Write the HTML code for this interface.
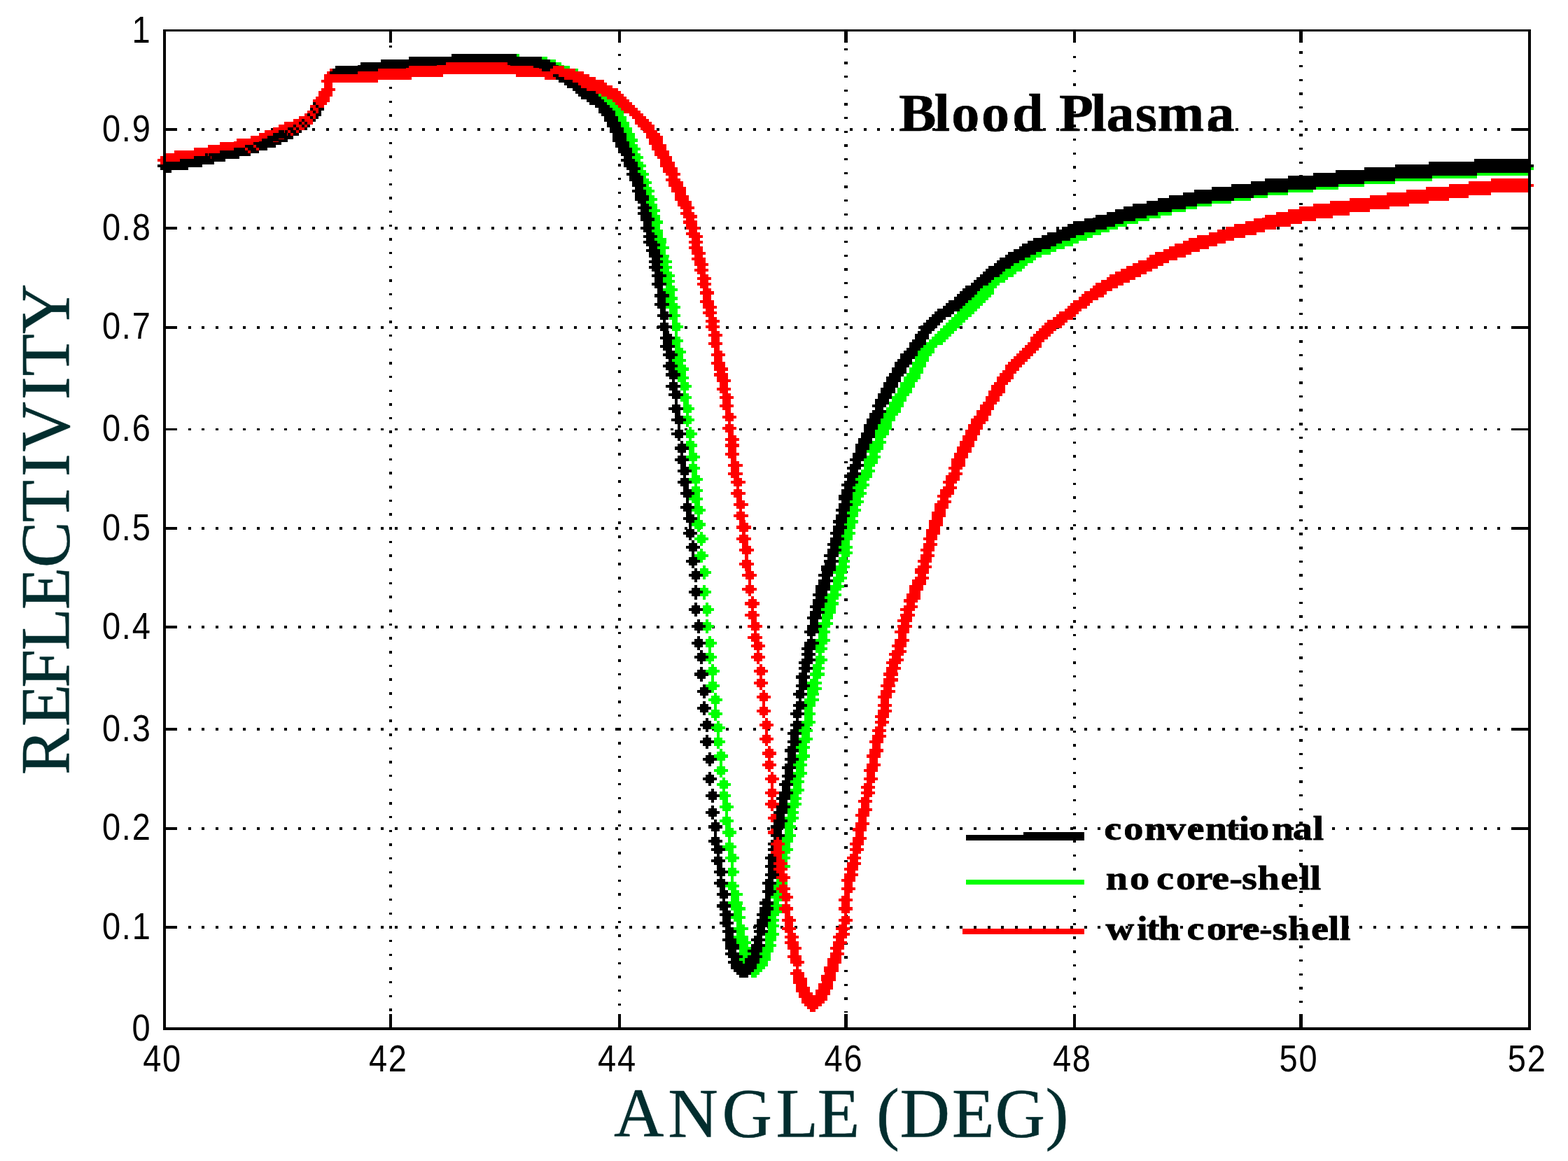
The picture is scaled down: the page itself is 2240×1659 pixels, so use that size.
<!DOCTYPE html>
<html lang="en"><head><meta charset="utf-8"><title>Blood Plasma reflectivity</title>
<style>html,body{margin:0;padding:0;background:#fff}body{width:2240px;height:1659px;overflow:hidden}svg{display:block}text{white-space:pre}.tk{font-family:"Liberation Sans",sans-serif;font-size:54px;fill:#000}.ax{font-family:"Liberation Serif",serif;fill:#022d2e;stroke:#022d2e;stroke-width:.5px;stroke-linejoin:round}.lg{font-family:"Liberation Serif",serif;font-weight:bold;fill:#000;stroke:#000;stroke-width:.8px}.tt{font-family:"Liberation Serif",serif;font-weight:bold;fill:#000;stroke:#000;stroke-width:.6px}</style></head><body>
<svg width="2240" height="1659" viewBox="0 0 2240 1659" shape-rendering="crispEdges">
<defs><path id="mk" d="M-2.02 -10.09h4.04v4.04h4.04v4.04h4.04v4.04h-4.04v4.04h-4.04v4.04h-4.04v-4.04h-4.04v-4.04h-4.04v-4.04h4.04v-4.04h4.04z" fill="#000"/><path id="mg" d="M-2.02 -10.09h4.04v4.04h4.04v4.04h4.04v4.04h-4.04v4.04h-4.04v4.04h-4.04v-4.04h-4.04v-4.04h-4.04v-4.04h4.04v-4.04h4.04z" fill="#0f0"/><path id="mr" d="M-2.02 -10.09h4.04v4.04h4.04v4.04h4.04v4.04h-4.04v4.04h-4.04v4.04h-4.04v-4.04h-4.04v-4.04h-4.04v-4.04h4.04v-4.04h4.04z" fill="#f00"/></defs>
<rect width="2240" height="1659" fill="#fff"/>
<g stroke="#000" fill="none"><line x1="557.8" y1="64.9" x2="557.8" y2="1447" stroke-width="4.6" stroke-dasharray="3.4 16.264"/><line x1="884.9" y1="76.9" x2="884.9" y2="1447" stroke-width="4.6" stroke-dasharray="3.4 16.264"/><line x1="1208.4" y1="68.6" x2="1208.4" y2="1447" stroke-width="4.6" stroke-dasharray="3.4 16.264"/><line x1="1534.8" y1="80.0" x2="1534.8" y2="1447" stroke-width="4.6" stroke-dasharray="3.4 16.264"/><line x1="1858.4" y1="73.2" x2="1858.4" y2="1447" stroke-width="4.6" stroke-dasharray="3.4 16.264"/><line x1="268.6" y1="185.2" x2="2145" y2="185.2" stroke-width="3.8" stroke-dasharray="4 15.692"/><line x1="268.6" y1="326.1" x2="2145" y2="326.1" stroke-width="3.8" stroke-dasharray="4 15.692"/><line x1="268.6" y1="467.8" x2="2145" y2="467.8" stroke-width="3.8" stroke-dasharray="4 15.692"/><line x1="268.6" y1="613.5" x2="2145" y2="613.5" stroke-width="3.8" stroke-dasharray="4 15.692"/><line x1="268.6" y1="755.2" x2="2145" y2="755.2" stroke-width="3.8" stroke-dasharray="4 15.692"/><line x1="268.6" y1="896.1" x2="2145" y2="896.1" stroke-width="3.8" stroke-dasharray="4 15.692"/><line x1="268.6" y1="1042.3" x2="2145" y2="1042.3" stroke-width="3.8" stroke-dasharray="4 15.692"/><line x1="268.6" y1="1183.8" x2="2145" y2="1183.8" stroke-width="3.8" stroke-dasharray="4 15.692"/><line x1="268.6" y1="1324.9" x2="2145" y2="1324.9" stroke-width="3.8" stroke-dasharray="4 15.692"/></g>
<g fill="#000"><rect x="555.5" y="1449.2" width="4.6" height="20"/><rect x="555.5" y="44" width="4.6" height="16.9"/><rect x="882.6" y="1449.2" width="4.6" height="20"/><rect x="882.6" y="44" width="4.6" height="16.9"/><rect x="1206.1" y="1449.2" width="4.6" height="20"/><rect x="1206.1" y="44" width="4.6" height="16.9"/><rect x="1532.5" y="1449.2" width="4.6" height="20"/><rect x="1532.5" y="44" width="4.6" height="16.9"/><rect x="1856.1" y="1449.2" width="4.6" height="20"/><rect x="1856.1" y="44" width="4.6" height="16.9"/><rect x="236" y="183.3" width="17.3" height="3.8"/><rect x="2159.4" y="183.3" width="24" height="3.8"/><rect x="236" y="324.2" width="17.3" height="3.8"/><rect x="2159.4" y="324.2" width="24" height="3.8"/><rect x="236" y="465.9" width="17.3" height="3.8"/><rect x="2159.4" y="465.9" width="24" height="3.8"/><rect x="236" y="611.6" width="17.3" height="3.8"/><rect x="2159.4" y="611.6" width="24" height="3.8"/><rect x="236" y="753.3" width="17.3" height="3.8"/><rect x="2159.4" y="753.3" width="24" height="3.8"/><rect x="236" y="894.2" width="17.3" height="3.8"/><rect x="2159.4" y="894.2" width="24" height="3.8"/><rect x="236" y="1040.4" width="17.3" height="3.8"/><rect x="2159.4" y="1040.4" width="24" height="3.8"/><rect x="236" y="1181.9" width="17.3" height="3.8"/><rect x="2159.4" y="1181.9" width="24" height="3.8"/><rect x="236" y="1323.0" width="17.3" height="3.8"/><rect x="2159.4" y="1323.0" width="24" height="3.8"/></g>
<text class="tt" transform="translate(0 187) scale(1.04 1)" x="1234.6 1283.3 1306.9 1348.2 1390.3 1433.2 1454.9 1498.6 1519.8 1559.4 1589.9 1657.1" font-size="77">Blood Plasma</text>
<g id="series-green">
<use href="#mg" x="234.9" y="236.8"/><use href="#mg" x="238.9" y="236.8"/><use href="#mg" x="243" y="236.8"/><use href="#mg" x="243" y="232.8"/><use href="#mg" x="247" y="232.8"/><use href="#mg" x="251" y="232.8"/><use href="#mg" x="255.1" y="232.8"/><use href="#mg" x="259.1" y="232.8"/><use href="#mg" x="263.2" y="232.8"/><use href="#mg" x="267.2" y="232.8"/><use href="#mg" x="267.2" y="228.7"/><use href="#mg" x="271.2" y="228.7"/><use href="#mg" x="275.3" y="228.7"/><use href="#mg" x="279.3" y="228.7"/><use href="#mg" x="283.3" y="228.7"/><use href="#mg" x="287.4" y="228.7"/><use href="#mg" x="287.4" y="224.7"/><use href="#mg" x="291.4" y="224.7"/><use href="#mg" x="295.5" y="224.7"/><use href="#mg" x="299.5" y="224.7"/><use href="#mg" x="303.5" y="224.7"/><use href="#mg" x="303.5" y="220.6"/><use href="#mg" x="307.6" y="220.6"/><use href="#mg" x="311.6" y="220.6"/><use href="#mg" x="315.6" y="220.6"/><use href="#mg" x="319.7" y="220.6"/><use href="#mg" x="323.7" y="216.6"/><use href="#mg" x="327.7" y="216.6"/><use href="#mg" x="331.8" y="216.6"/><use href="#mg" x="335.8" y="216.6"/><use href="#mg" x="339.9" y="216.6"/><use href="#mg" x="343.9" y="212.6"/><use href="#mg" x="347.9" y="212.6"/><use href="#mg" x="352" y="212.6"/><use href="#mg" x="356" y="212.6"/><use href="#mg" x="360" y="208.5"/><use href="#mg" x="364.1" y="208.5"/><use href="#mg" x="368.1" y="208.5"/><use href="#mg" x="372.2" y="204.5"/><use href="#mg" x="376.2" y="204.5"/><use href="#mg" x="380.2" y="204.5"/><use href="#mg" x="384.3" y="200.5"/><use href="#mg" x="388.3" y="200.5"/><use href="#mg" x="392.3" y="200.5"/><use href="#mg" x="392.3" y="196.4"/><use href="#mg" x="396.4" y="196.4"/><use href="#mg" x="400.4" y="196.4"/><use href="#mg" x="400.4" y="192.4"/><use href="#mg" x="404.4" y="192.4"/><use href="#mg" x="408.5" y="192.4"/><use href="#mg" x="408.5" y="188.4"/><use href="#mg" x="412.5" y="188.4"/><use href="#mg" x="416.6" y="188.4"/><use href="#mg" x="416.6" y="184.3"/><use href="#mg" x="420.6" y="184.3"/><use href="#mg" x="424.6" y="184.3"/><use href="#mg" x="424.6" y="180.3"/><use href="#mg" x="428.7" y="180.3"/><use href="#mg" x="432.7" y="176.2"/><use href="#mg" x="436.7" y="176.2"/><use href="#mg" x="436.7" y="172.2"/><use href="#mg" x="440.8" y="172.2"/><use href="#mg" x="444.8" y="168.2"/><use href="#mg" x="444.8" y="164.1"/><use href="#mg" x="448.9" y="164.1"/><use href="#mg" x="448.9" y="160.1"/><use href="#mg" x="452.9" y="156.1"/><use href="#mg" x="452.9" y="152"/><use href="#mg" x="456.9" y="148"/><use href="#mg" x="461" y="143.9"/><use href="#mg" x="461" y="139.9"/><use href="#mg" x="465" y="135.9"/><use href="#mg" x="465" y="131.8"/><use href="#mg" x="469" y="127.8"/><use href="#mg" x="469" y="115.7"/><use href="#mg" x="473.1" y="107.6"/><use href="#mg" x="477.1" y="107.6"/><use href="#mg" x="481.2" y="103.6"/><use href="#mg" x="485.2" y="103.6"/><use href="#mg" x="489.2" y="103.6"/><use href="#mg" x="493.3" y="103.6"/><use href="#mg" x="497.3" y="103.6"/><use href="#mg" x="501.3" y="103.6"/><use href="#mg" x="505.4" y="103.6"/><use href="#mg" x="509.4" y="103.6"/><use href="#mg" x="513.4" y="103.6"/><use href="#mg" x="517.5" y="103.6"/><use href="#mg" x="517.5" y="99.5"/><use href="#mg" x="521.5" y="99.5"/><use href="#mg" x="525.6" y="99.5"/><use href="#mg" x="529.6" y="99.5"/><use href="#mg" x="533.6" y="99.5"/><use href="#mg" x="537.7" y="99.5"/><use href="#mg" x="541.7" y="99.5"/><use href="#mg" x="545.7" y="99.5"/><use href="#mg" x="545.7" y="95.5"/><use href="#mg" x="549.8" y="95.5"/><use href="#mg" x="553.8" y="95.5"/><use href="#mg" x="557.9" y="95.5"/><use href="#mg" x="561.9" y="95.5"/><use href="#mg" x="565.9" y="95.5"/><use href="#mg" x="570" y="95.5"/><use href="#mg" x="574" y="95.5"/><use href="#mg" x="578" y="95.5"/><use href="#mg" x="582.1" y="95.5"/><use href="#mg" x="586.1" y="91.5"/><use href="#mg" x="590.2" y="91.5"/><use href="#mg" x="594.2" y="91.5"/><use href="#mg" x="598.2" y="91.5"/><use href="#mg" x="602.3" y="91.5"/><use href="#mg" x="606.3" y="91.5"/><use href="#mg" x="610.3" y="91.5"/><use href="#mg" x="614.4" y="91.5"/><use href="#mg" x="618.4" y="91.5"/><use href="#mg" x="622.4" y="91.5"/><use href="#mg" x="626.5" y="91.5"/><use href="#mg" x="630.5" y="91.5"/><use href="#mg" x="634.6" y="91.5"/><use href="#mg" x="638.6" y="91.5"/><use href="#mg" x="642.6" y="91.5"/><use href="#mg" x="646.7" y="87.4"/><use href="#mg" x="650.7" y="87.4"/><use href="#mg" x="654.7" y="87.4"/><use href="#mg" x="658.8" y="87.4"/><use href="#mg" x="662.8" y="87.4"/><use href="#mg" x="666.9" y="87.4"/><use href="#mg" x="670.9" y="87.4"/><use href="#mg" x="674.9" y="87.4"/><use href="#mg" x="679" y="87.4"/><use href="#mg" x="683" y="87.4"/><use href="#mg" x="687" y="87.4"/><use href="#mg" x="691.1" y="87.4"/><use href="#mg" x="695.1" y="87.4"/><use href="#mg" x="699.2" y="87.4"/><use href="#mg" x="703.2" y="87.4"/><use href="#mg" x="707.2" y="87.4"/><use href="#mg" x="711.3" y="87.4"/><use href="#mg" x="715.3" y="87.4"/><use href="#mg" x="719.3" y="87.4"/><use href="#mg" x="723.4" y="87.4"/><use href="#mg" x="727.4" y="87.4"/><use href="#mg" x="731.4" y="87.4"/><use href="#mg" x="735.5" y="87.4"/><use href="#mg" x="739.5" y="87.4"/><use href="#mg" x="743.6" y="91.5"/><use href="#mg" x="747.6" y="91.5"/><use href="#mg" x="751.6" y="91.5"/><use href="#mg" x="755.7" y="91.5"/><use href="#mg" x="759.7" y="91.5"/><use href="#mg" x="763.7" y="91.5"/><use href="#mg" x="767.8" y="91.5"/><use href="#mg" x="771.8" y="91.5"/><use href="#mg" x="775.9" y="91.5"/><use href="#mg" x="779.9" y="91.5"/><use href="#mg" x="779.9" y="95.5"/><use href="#mg" x="783.9" y="95.5"/><use href="#mg" x="788" y="95.5"/><use href="#mg" x="792" y="95.5"/><use href="#mg" x="792" y="99.5"/><use href="#mg" x="796" y="99.5"/><use href="#mg" x="800.1" y="99.5"/><use href="#mg" x="800.1" y="103.6"/><use href="#mg" x="804.1" y="103.6"/><use href="#mg" x="808.1" y="103.6"/><use href="#mg" x="812.2" y="103.6"/><use href="#mg" x="816.2" y="107.6"/><use href="#mg" x="820.3" y="107.6"/><use href="#mg" x="824.3" y="107.6"/><use href="#mg" x="824.3" y="111.6"/><use href="#mg" x="828.3" y="111.6"/><use href="#mg" x="832.4" y="115.7"/><use href="#mg" x="836.4" y="119.7"/><use href="#mg" x="840.4" y="119.7"/><use href="#mg" x="840.4" y="123.8"/><use href="#mg" x="844.5" y="123.8"/><use href="#mg" x="848.5" y="127.8"/><use href="#mg" x="852.6" y="131.8"/><use href="#mg" x="856.6" y="135.9"/><use href="#mg" x="860.6" y="139.9"/><use href="#mg" x="864.7" y="143.9"/><use href="#mg" x="868.7" y="148"/><use href="#mg" x="872.7" y="152"/><use href="#mg" x="876.8" y="156.1"/><use href="#mg" x="876.8" y="160.1"/><use href="#mg" x="880.8" y="160.1"/><use href="#mg" x="880.8" y="164.1"/><use href="#mg" x="884.9" y="168.2"/><use href="#mg" x="884.9" y="172.2"/><use href="#mg" x="888.9" y="176.2"/><use href="#mg" x="888.9" y="180.3"/><use href="#mg" x="892.9" y="184.3"/><use href="#mg" x="892.9" y="188.4"/><use href="#mg" x="897" y="192.4"/><use href="#mg" x="897" y="196.4"/><use href="#mg" x="901" y="200.5"/><use href="#mg" x="901" y="208.5"/><use href="#mg" x="905" y="212.6"/><use href="#mg" x="905" y="220.6"/><use href="#mg" x="909.1" y="224.7"/><use href="#mg" x="909.1" y="232.8"/><use href="#mg" x="913.1" y="236.8"/><use href="#mg" x="913.1" y="244.9"/><use href="#mg" x="917.1" y="248.9"/><use href="#mg" x="917.1" y="257"/><use href="#mg" x="921.2" y="261"/><use href="#mg" x="921.2" y="269.1"/><use href="#mg" x="925.2" y="273.1"/><use href="#mg" x="925.2" y="281.2"/><use href="#mg" x="929.3" y="285.2"/><use href="#mg" x="929.3" y="293.3"/><use href="#mg" x="933.3" y="301.4"/><use href="#mg" x="933.3" y="309.5"/><use href="#mg" x="937.3" y="317.5"/><use href="#mg" x="937.3" y="329.6"/><use href="#mg" x="937.3" y="333.7"/><use href="#mg" x="941.4" y="341.8"/><use href="#mg" x="941.4" y="345.8"/><use href="#mg" x="945.4" y="353.9"/><use href="#mg" x="945.4" y="366"/><use href="#mg" x="949.4" y="374.1"/><use href="#mg" x="949.4" y="382.1"/><use href="#mg" x="953.5" y="394.2"/><use href="#mg" x="953.5" y="402.3"/><use href="#mg" x="957.5" y="414.4"/><use href="#mg" x="957.5" y="426.5"/><use href="#mg" x="961.6" y="438.6"/><use href="#mg" x="961.6" y="450.8"/><use href="#mg" x="965.6" y="466.9"/><use href="#mg" x="965.6" y="487.1"/><use href="#mg" x="969.6" y="503.2"/><use href="#mg" x="969.6" y="515.3"/><use href="#mg" x="973.7" y="527.5"/><use href="#mg" x="973.7" y="539.6"/><use href="#mg" x="977.7" y="551.7"/><use href="#mg" x="977.7" y="567.8"/><use href="#mg" x="981.7" y="584"/><use href="#mg" x="981.7" y="600.1"/><use href="#mg" x="985.8" y="620.3"/><use href="#mg" x="985.8" y="636.5"/><use href="#mg" x="989.8" y="652.6"/><use href="#mg" x="989.8" y="668.8"/><use href="#mg" x="993.9" y="684.9"/><use href="#mg" x="993.9" y="701.1"/><use href="#mg" x="993.9" y="713.2"/><use href="#mg" x="997.9" y="729.3"/><use href="#mg" x="997.9" y="749.5"/><use href="#mg" x="1001.9" y="769.7"/><use href="#mg" x="1001.9" y="793.9"/><use href="#mg" x="1006" y="818.1"/><use href="#mg" x="1006" y="846.4"/><use href="#mg" x="1010" y="870.6"/><use href="#mg" x="1010" y="894.8"/><use href="#mg" x="1014" y="919"/><use href="#mg" x="1014" y="939.2"/><use href="#mg" x="1018.1" y="959.4"/><use href="#mg" x="1018.1" y="979.6"/><use href="#mg" x="1022.1" y="999.8"/><use href="#mg" x="1022.1" y="1020"/><use href="#mg" x="1026.1" y="1040.2"/><use href="#mg" x="1026.1" y="1060.3"/><use href="#mg" x="1030.2" y="1080.5"/><use href="#mg" x="1030.2" y="1100.7"/><use href="#mg" x="1034.2" y="1120.9"/><use href="#mg" x="1034.2" y="1137"/><use href="#mg" x="1038.3" y="1153.2"/><use href="#mg" x="1038.3" y="1173.4"/><use href="#mg" x="1042.3" y="1189.5"/><use href="#mg" x="1042.3" y="1209.7"/><use href="#mg" x="1046.3" y="1225.9"/><use href="#mg" x="1046.3" y="1246"/><use href="#mg" x="1046.3" y="1266.2"/><use href="#mg" x="1050.4" y="1278.3"/><use href="#mg" x="1050.4" y="1290.5"/><use href="#mg" x="1054.4" y="1298.5"/><use href="#mg" x="1054.4" y="1310.6"/><use href="#mg" x="1058.4" y="1326.8"/><use href="#mg" x="1058.4" y="1338.9"/><use href="#mg" x="1062.5" y="1347"/><use href="#mg" x="1062.5" y="1355"/><use href="#mg" x="1066.5" y="1363.1"/><use href="#mg" x="1066.5" y="1371.2"/><use href="#mg" x="1070.6" y="1375.2"/><use href="#mg" x="1070.6" y="1383.3"/><use href="#mg" x="1074.6" y="1383.3"/><use href="#mg" x="1074.6" y="1387.3"/><use href="#mg" x="1078.6" y="1387.3"/><use href="#mg" x="1082.7" y="1383.3"/><use href="#mg" x="1086.7" y="1379.3"/><use href="#mg" x="1086.7" y="1375.2"/><use href="#mg" x="1090.7" y="1371.2"/><use href="#mg" x="1090.7" y="1367.2"/><use href="#mg" x="1094.8" y="1359.1"/><use href="#mg" x="1094.8" y="1355"/><use href="#mg" x="1098.8" y="1351"/><use href="#mg" x="1098.8" y="1342.9"/><use href="#mg" x="1102.9" y="1334.9"/><use href="#mg" x="1102.9" y="1322.7"/><use href="#mg" x="1102.9" y="1314.7"/><use href="#mg" x="1106.9" y="1302.6"/><use href="#mg" x="1106.9" y="1294.5"/><use href="#mg" x="1110.9" y="1282.4"/><use href="#mg" x="1110.9" y="1270.3"/><use href="#mg" x="1115" y="1262.2"/><use href="#mg" x="1115" y="1250.1"/><use href="#mg" x="1119" y="1238"/><use href="#mg" x="1119" y="1225.9"/><use href="#mg" x="1123" y="1213.8"/><use href="#mg" x="1123" y="1201.6"/><use href="#mg" x="1127.1" y="1193.6"/><use href="#mg" x="1127.1" y="1181.5"/><use href="#mg" x="1131.1" y="1169.3"/><use href="#mg" x="1131.1" y="1161.3"/><use href="#mg" x="1135.1" y="1149.2"/><use href="#mg" x="1135.1" y="1141.1"/><use href="#mg" x="1139.2" y="1129"/><use href="#mg" x="1139.2" y="1116.9"/><use href="#mg" x="1143.2" y="1104.8"/><use href="#mg" x="1143.2" y="1092.6"/><use href="#mg" x="1147.3" y="1080.5"/><use href="#mg" x="1147.3" y="1068.4"/><use href="#mg" x="1151.3" y="1056.3"/><use href="#mg" x="1151.3" y="1044.2"/><use href="#mg" x="1155.3" y="1032.1"/><use href="#mg" x="1155.3" y="1020"/><use href="#mg" x="1155.3" y="1007.9"/><use href="#mg" x="1159.4" y="999.8"/><use href="#mg" x="1159.4" y="991.7"/><use href="#mg" x="1163.4" y="983.6"/><use href="#mg" x="1163.4" y="975.6"/><use href="#mg" x="1167.4" y="963.5"/><use href="#mg" x="1167.4" y="955.4"/><use href="#mg" x="1171.5" y="943.3"/><use href="#mg" x="1171.5" y="927.1"/><use href="#mg" x="1175.5" y="915"/><use href="#mg" x="1175.5" y="902.9"/><use href="#mg" x="1179.6" y="890.8"/><use href="#mg" x="1179.6" y="882.7"/><use href="#mg" x="1183.6" y="874.6"/><use href="#mg" x="1183.6" y="870.6"/><use href="#mg" x="1187.6" y="862.5"/><use href="#mg" x="1187.6" y="854.5"/><use href="#mg" x="1191.7" y="850.4"/><use href="#mg" x="1191.7" y="842.3"/><use href="#mg" x="1195.7" y="838.3"/><use href="#mg" x="1195.7" y="830.2"/><use href="#mg" x="1199.7" y="826.2"/><use href="#mg" x="1199.7" y="818.1"/><use href="#mg" x="1203.8" y="810"/><use href="#mg" x="1203.8" y="802"/><use href="#mg" x="1207.8" y="789.9"/><use href="#mg" x="1207.8" y="781.8"/><use href="#mg" x="1207.8" y="769.7"/><use href="#mg" x="1211.8" y="761.6"/><use href="#mg" x="1211.8" y="753.5"/><use href="#mg" x="1215.9" y="745.5"/><use href="#mg" x="1215.9" y="737.4"/><use href="#mg" x="1219.9" y="729.3"/><use href="#mg" x="1219.9" y="721.2"/><use href="#mg" x="1224" y="717.2"/><use href="#mg" x="1224" y="709.1"/><use href="#mg" x="1228" y="705.1"/><use href="#mg" x="1228" y="697"/><use href="#mg" x="1232" y="693"/><use href="#mg" x="1232" y="684.9"/><use href="#mg" x="1236.1" y="680.9"/><use href="#mg" x="1236.1" y="676.8"/><use href="#mg" x="1240.1" y="672.8"/><use href="#mg" x="1240.1" y="664.7"/><use href="#mg" x="1244.1" y="660.7"/><use href="#mg" x="1244.1" y="656.6"/><use href="#mg" x="1248.2" y="652.6"/><use href="#mg" x="1248.2" y="644.5"/><use href="#mg" x="1252.2" y="640.5"/><use href="#mg" x="1252.2" y="636.5"/><use href="#mg" x="1256.3" y="632.4"/><use href="#mg" x="1256.3" y="624.3"/><use href="#mg" x="1260.3" y="620.3"/><use href="#mg" x="1260.3" y="616.3"/><use href="#mg" x="1264.3" y="612.2"/><use href="#mg" x="1264.3" y="608.2"/><use href="#mg" x="1264.3" y="604.2"/><use href="#mg" x="1268.4" y="600.1"/><use href="#mg" x="1268.4" y="596.1"/><use href="#mg" x="1272.4" y="592.1"/><use href="#mg" x="1276.4" y="588"/><use href="#mg" x="1276.4" y="584"/><use href="#mg" x="1280.5" y="579.9"/><use href="#mg" x="1280.5" y="575.9"/><use href="#mg" x="1284.5" y="571.9"/><use href="#mg" x="1284.5" y="567.8"/><use href="#mg" x="1288.6" y="563.8"/><use href="#mg" x="1292.6" y="559.8"/><use href="#mg" x="1292.6" y="555.7"/><use href="#mg" x="1296.6" y="551.7"/><use href="#mg" x="1296.6" y="547.6"/><use href="#mg" x="1300.7" y="543.6"/><use href="#mg" x="1300.7" y="539.6"/><use href="#mg" x="1304.7" y="539.6"/><use href="#mg" x="1304.7" y="535.5"/><use href="#mg" x="1308.7" y="531.5"/><use href="#mg" x="1308.7" y="527.5"/><use href="#mg" x="1312.8" y="523.4"/><use href="#mg" x="1312.8" y="519.4"/><use href="#mg" x="1316.8" y="515.3"/><use href="#mg" x="1316.8" y="511.3"/><use href="#mg" x="1320.8" y="507.3"/><use href="#mg" x="1320.8" y="503.2"/><use href="#mg" x="1324.9" y="503.2"/><use href="#mg" x="1324.9" y="499.2"/><use href="#mg" x="1328.9" y="495.2"/><use href="#mg" x="1333" y="491.1"/><use href="#mg" x="1337" y="487.1"/><use href="#mg" x="1341" y="483.1"/><use href="#mg" x="1345.1" y="483.1"/><use href="#mg" x="1345.1" y="479"/><use href="#mg" x="1349.1" y="479"/><use href="#mg" x="1349.1" y="475"/><use href="#mg" x="1353.1" y="475"/><use href="#mg" x="1353.1" y="470.9"/><use href="#mg" x="1357.2" y="470.9"/><use href="#mg" x="1357.2" y="466.9"/><use href="#mg" x="1361.2" y="466.9"/><use href="#mg" x="1361.2" y="462.9"/><use href="#mg" x="1365.3" y="462.9"/><use href="#mg" x="1369.3" y="458.8"/><use href="#mg" x="1369.3" y="454.8"/><use href="#mg" x="1373.3" y="454.8"/><use href="#mg" x="1373.3" y="450.8"/><use href="#mg" x="1377.4" y="450.8"/><use href="#mg" x="1377.4" y="446.7"/><use href="#mg" x="1381.4" y="446.7"/><use href="#mg" x="1381.4" y="442.7"/><use href="#mg" x="1385.4" y="442.7"/><use href="#mg" x="1385.4" y="438.6"/><use href="#mg" x="1389.5" y="438.6"/><use href="#mg" x="1389.5" y="434.6"/><use href="#mg" x="1393.5" y="434.6"/><use href="#mg" x="1393.5" y="430.6"/><use href="#mg" x="1397.6" y="430.6"/><use href="#mg" x="1397.6" y="426.5"/><use href="#mg" x="1401.6" y="426.5"/><use href="#mg" x="1401.6" y="422.5"/><use href="#mg" x="1405.6" y="422.5"/><use href="#mg" x="1405.6" y="418.5"/><use href="#mg" x="1409.7" y="418.5"/><use href="#mg" x="1409.7" y="414.4"/><use href="#mg" x="1413.7" y="410.4"/><use href="#mg" x="1417.7" y="406.3"/><use href="#mg" x="1421.8" y="402.3"/><use href="#mg" x="1425.8" y="398.3"/><use href="#mg" x="1429.8" y="394.2"/><use href="#mg" x="1433.9" y="394.2"/><use href="#mg" x="1433.9" y="390.2"/><use href="#mg" x="1437.9" y="390.2"/><use href="#mg" x="1442" y="386.2"/><use href="#mg" x="1446" y="386.2"/><use href="#mg" x="1446" y="382.1"/><use href="#mg" x="1450" y="382.1"/><use href="#mg" x="1454.1" y="378.1"/><use href="#mg" x="1458.1" y="378.1"/><use href="#mg" x="1458.1" y="374.1"/><use href="#mg" x="1462.1" y="374.1"/><use href="#mg" x="1462.1" y="370"/><use href="#mg" x="1466.2" y="370"/><use href="#mg" x="1470.2" y="366"/><use href="#mg" x="1474.3" y="366"/><use href="#mg" x="1474.3" y="361.9"/><use href="#mg" x="1478.3" y="361.9"/><use href="#mg" x="1482.3" y="357.9"/><use href="#mg" x="1486.4" y="357.9"/><use href="#mg" x="1490.4" y="353.9"/><use href="#mg" x="1494.4" y="353.9"/><use href="#mg" x="1498.5" y="353.9"/><use href="#mg" x="1498.5" y="349.8"/><use href="#mg" x="1502.5" y="349.8"/><use href="#mg" x="1506.6" y="349.8"/><use href="#mg" x="1510.6" y="345.8"/><use href="#mg" x="1514.6" y="345.8"/><use href="#mg" x="1518.7" y="345.8"/><use href="#mg" x="1522.7" y="341.8"/><use href="#mg" x="1526.7" y="341.8"/><use href="#mg" x="1530.8" y="341.8"/><use href="#mg" x="1530.8" y="337.7"/><use href="#mg" x="1534.8" y="337.7"/><use href="#mg" x="1538.8" y="337.7"/><use href="#mg" x="1542.9" y="333.7"/><use href="#mg" x="1546.9" y="333.7"/><use href="#mg" x="1551" y="333.7"/><use href="#mg" x="1551" y="329.6"/><use href="#mg" x="1555" y="329.6"/><use href="#mg" x="1559" y="329.6"/><use href="#mg" x="1563.1" y="325.6"/><use href="#mg" x="1567.1" y="325.6"/><use href="#mg" x="1571.1" y="325.6"/><use href="#mg" x="1571.1" y="321.6"/><use href="#mg" x="1575.2" y="321.6"/><use href="#mg" x="1579.2" y="321.6"/><use href="#mg" x="1583.3" y="321.6"/><use href="#mg" x="1583.3" y="317.5"/><use href="#mg" x="1587.3" y="317.5"/><use href="#mg" x="1591.3" y="317.5"/><use href="#mg" x="1595.4" y="317.5"/><use href="#mg" x="1595.4" y="313.5"/><use href="#mg" x="1599.4" y="313.5"/><use href="#mg" x="1603.4" y="313.5"/><use href="#mg" x="1607.5" y="313.5"/><use href="#mg" x="1611.5" y="309.5"/><use href="#mg" x="1615.5" y="309.5"/><use href="#mg" x="1619.6" y="309.5"/><use href="#mg" x="1623.6" y="309.5"/><use href="#mg" x="1623.6" y="305.4"/><use href="#mg" x="1627.7" y="305.4"/><use href="#mg" x="1631.7" y="305.4"/><use href="#mg" x="1635.7" y="305.4"/><use href="#mg" x="1639.8" y="305.4"/><use href="#mg" x="1639.8" y="301.4"/><use href="#mg" x="1643.8" y="301.4"/><use href="#mg" x="1647.8" y="301.4"/><use href="#mg" x="1651.9" y="301.4"/><use href="#mg" x="1655.9" y="301.4"/><use href="#mg" x="1655.9" y="297.4"/><use href="#mg" x="1660" y="297.4"/><use href="#mg" x="1664" y="297.4"/><use href="#mg" x="1668" y="297.4"/><use href="#mg" x="1672.1" y="297.4"/><use href="#mg" x="1672.1" y="293.3"/><use href="#mg" x="1676.1" y="293.3"/><use href="#mg" x="1680.1" y="293.3"/><use href="#mg" x="1684.2" y="293.3"/><use href="#mg" x="1688.2" y="293.3"/><use href="#mg" x="1692.3" y="293.3"/><use href="#mg" x="1692.3" y="289.3"/><use href="#mg" x="1696.3" y="289.3"/><use href="#mg" x="1700.3" y="289.3"/><use href="#mg" x="1704.4" y="289.3"/><use href="#mg" x="1708.4" y="289.3"/><use href="#mg" x="1708.4" y="285.2"/><use href="#mg" x="1712.4" y="285.2"/><use href="#mg" x="1716.5" y="285.2"/><use href="#mg" x="1720.5" y="285.2"/><use href="#mg" x="1724.5" y="285.2"/><use href="#mg" x="1728.6" y="285.2"/><use href="#mg" x="1732.6" y="281.2"/><use href="#mg" x="1736.7" y="281.2"/><use href="#mg" x="1740.7" y="281.2"/><use href="#mg" x="1744.7" y="281.2"/><use href="#mg" x="1748.8" y="281.2"/><use href="#mg" x="1752.8" y="281.2"/><use href="#mg" x="1756.8" y="281.2"/><use href="#mg" x="1760.9" y="277.2"/><use href="#mg" x="1764.9" y="277.2"/><use href="#mg" x="1769" y="277.2"/><use href="#mg" x="1773" y="277.2"/><use href="#mg" x="1777" y="277.2"/><use href="#mg" x="1781.1" y="277.2"/><use href="#mg" x="1785.1" y="277.2"/><use href="#mg" x="1789.1" y="273.1"/><use href="#mg" x="1793.2" y="273.1"/><use href="#mg" x="1797.2" y="273.1"/><use href="#mg" x="1801.3" y="273.1"/><use href="#mg" x="1805.3" y="273.1"/><use href="#mg" x="1809.3" y="273.1"/><use href="#mg" x="1809.3" y="269.1"/><use href="#mg" x="1813.4" y="269.1"/><use href="#mg" x="1817.4" y="269.1"/><use href="#mg" x="1821.4" y="269.1"/><use href="#mg" x="1825.5" y="269.1"/><use href="#mg" x="1829.5" y="269.1"/><use href="#mg" x="1833.5" y="269.1"/><use href="#mg" x="1837.6" y="269.1"/><use href="#mg" x="1841.6" y="265.1"/><use href="#mg" x="1845.7" y="265.1"/><use href="#mg" x="1849.7" y="265.1"/><use href="#mg" x="1853.7" y="265.1"/><use href="#mg" x="1857.8" y="265.1"/><use href="#mg" x="1861.8" y="265.1"/><use href="#mg" x="1865.8" y="265.1"/><use href="#mg" x="1869.9" y="265.1"/><use href="#mg" x="1873.9" y="265.1"/><use href="#mg" x="1878" y="261"/><use href="#mg" x="1882" y="261"/><use href="#mg" x="1886" y="261"/><use href="#mg" x="1890.1" y="261"/><use href="#mg" x="1894.1" y="261"/><use href="#mg" x="1898.1" y="261"/><use href="#mg" x="1902.2" y="261"/><use href="#mg" x="1906.2" y="261"/><use href="#mg" x="1910.3" y="261"/><use href="#mg" x="1910.3" y="257"/><use href="#mg" x="1914.3" y="257"/><use href="#mg" x="1918.3" y="257"/><use href="#mg" x="1922.4" y="257"/><use href="#mg" x="1926.4" y="257"/><use href="#mg" x="1930.4" y="257"/><use href="#mg" x="1934.5" y="257"/><use href="#mg" x="1938.5" y="257"/><use href="#mg" x="1942.5" y="257"/><use href="#mg" x="1946.6" y="257"/><use href="#mg" x="1950.6" y="252.9"/><use href="#mg" x="1954.7" y="252.9"/><use href="#mg" x="1958.7" y="252.9"/><use href="#mg" x="1962.7" y="252.9"/><use href="#mg" x="1966.8" y="252.9"/><use href="#mg" x="1970.8" y="252.9"/><use href="#mg" x="1974.8" y="252.9"/><use href="#mg" x="1978.9" y="252.9"/><use href="#mg" x="1982.9" y="252.9"/><use href="#mg" x="1987" y="252.9"/><use href="#mg" x="1991" y="252.9"/><use href="#mg" x="1995" y="248.9"/><use href="#mg" x="1999.1" y="248.9"/><use href="#mg" x="2003.1" y="248.9"/><use href="#mg" x="2007.1" y="248.9"/><use href="#mg" x="2011.2" y="248.9"/><use href="#mg" x="2015.2" y="248.9"/><use href="#mg" x="2019.2" y="248.9"/><use href="#mg" x="2023.3" y="248.9"/><use href="#mg" x="2027.3" y="248.9"/><use href="#mg" x="2031.4" y="248.9"/><use href="#mg" x="2035.4" y="248.9"/><use href="#mg" x="2039.4" y="248.9"/><use href="#mg" x="2043.5" y="248.9"/><use href="#mg" x="2043.5" y="244.9"/><use href="#mg" x="2047.5" y="244.9"/><use href="#mg" x="2051.5" y="244.9"/><use href="#mg" x="2055.6" y="244.9"/><use href="#mg" x="2059.6" y="244.9"/><use href="#mg" x="2063.7" y="244.9"/><use href="#mg" x="2067.7" y="244.9"/><use href="#mg" x="2071.7" y="244.9"/><use href="#mg" x="2075.8" y="244.9"/><use href="#mg" x="2079.8" y="244.9"/><use href="#mg" x="2083.8" y="244.9"/><use href="#mg" x="2087.9" y="244.9"/><use href="#mg" x="2091.9" y="244.9"/><use href="#mg" x="2096" y="244.9"/><use href="#mg" x="2100" y="244.9"/><use href="#mg" x="2104" y="244.9"/><use href="#mg" x="2108.1" y="244.9"/><use href="#mg" x="2108.1" y="240.8"/><use href="#mg" x="2112.1" y="240.8"/><use href="#mg" x="2116.1" y="240.8"/><use href="#mg" x="2120.2" y="240.8"/><use href="#mg" x="2124.2" y="240.8"/><use href="#mg" x="2128.2" y="240.8"/><use href="#mg" x="2132.3" y="240.8"/><use href="#mg" x="2136.3" y="240.8"/><use href="#mg" x="2140.4" y="240.8"/><use href="#mg" x="2144.4" y="240.8"/><use href="#mg" x="2148.4" y="240.8"/><use href="#mg" x="2152.5" y="240.8"/><use href="#mg" x="2156.5" y="240.8"/><use href="#mg" x="2160.5" y="240.8"/><use href="#mg" x="2164.6" y="240.8"/><use href="#mg" x="2168.6" y="240.8"/><use href="#mg" x="2172.7" y="240.8"/><use href="#mg" x="2176.7" y="240.8"/><use href="#mg" x="2180.7" y="240.8"/>
</g><g id="series-black-red">
<use href="#mk" x="234.9" y="236.8"/><use href="#mr" x="234.9" y="228.7"/><use href="#mk" x="238.9" y="236.8"/><use href="#mr" x="238.9" y="228.7"/><use href="#mk" x="243" y="236.8"/><use href="#mk" x="243" y="232.8"/><use href="#mr" x="243" y="228.7"/><use href="#mk" x="247" y="232.8"/><use href="#mr" x="247" y="228.7"/><use href="#mr" x="251" y="228.7"/><use href="#mk" x="251" y="232.8"/><use href="#mr" x="251" y="224.7"/><use href="#mk" x="255.1" y="232.8"/><use href="#mr" x="255.1" y="224.7"/><use href="#mk" x="259.1" y="232.8"/><use href="#mr" x="259.1" y="224.7"/><use href="#mk" x="263.2" y="232.8"/><use href="#mr" x="263.2" y="224.7"/><use href="#mk" x="267.2" y="232.8"/><use href="#mk" x="267.2" y="228.7"/><use href="#mr" x="267.2" y="224.7"/><use href="#mk" x="271.2" y="228.7"/><use href="#mr" x="271.2" y="224.7"/><use href="#mk" x="275.3" y="228.7"/><use href="#mr" x="275.3" y="224.7"/><use href="#mr" x="279.3" y="224.7"/><use href="#mk" x="279.3" y="228.7"/><use href="#mr" x="279.3" y="220.6"/><use href="#mk" x="283.3" y="228.7"/><use href="#mr" x="283.3" y="220.6"/><use href="#mk" x="287.4" y="228.7"/><use href="#mk" x="287.4" y="224.7"/><use href="#mr" x="287.4" y="220.6"/><use href="#mk" x="291.4" y="224.7"/><use href="#mr" x="291.4" y="220.6"/><use href="#mk" x="295.5" y="224.7"/><use href="#mr" x="295.5" y="220.6"/><use href="#mr" x="299.5" y="220.6"/><use href="#mk" x="299.5" y="224.7"/><use href="#mr" x="299.5" y="216.6"/><use href="#mk" x="303.5" y="224.7"/><use href="#mk" x="303.5" y="220.6"/><use href="#mr" x="303.5" y="216.6"/><use href="#mk" x="307.6" y="220.6"/><use href="#mr" x="307.6" y="216.6"/><use href="#mk" x="311.6" y="220.6"/><use href="#mr" x="311.6" y="216.6"/><use href="#mr" x="315.6" y="216.6"/><use href="#mk" x="315.6" y="220.6"/><use href="#mr" x="315.6" y="212.6"/><use href="#mk" x="319.7" y="220.6"/><use href="#mr" x="319.7" y="212.6"/><use href="#mk" x="323.7" y="216.6"/><use href="#mr" x="323.7" y="212.6"/><use href="#mk" x="327.7" y="216.6"/><use href="#mr" x="327.7" y="212.6"/><use href="#mk" x="331.8" y="216.6"/><use href="#mr" x="331.8" y="212.6"/><use href="#mk" x="335.8" y="216.6"/><use href="#mr" x="335.8" y="212.6"/><use href="#mr" x="339.9" y="212.6"/><use href="#mk" x="339.9" y="216.6"/><use href="#mr" x="339.9" y="208.5"/><use href="#mk" x="343.9" y="212.6"/><use href="#mr" x="343.9" y="208.5"/><use href="#mk" x="347.9" y="212.6"/><use href="#mr" x="347.9" y="208.5"/><use href="#mk" x="352" y="212.6"/><use href="#mr" x="352" y="208.5"/><use href="#mk" x="356" y="212.6"/><use href="#mr" x="356" y="208.5"/><use href="#mk" x="360" y="208.5"/><use href="#mr" x="360" y="204.5"/><use href="#mk" x="364.1" y="208.5"/><use href="#mr" x="364.1" y="204.5"/><use href="#mk" x="368.1" y="208.5"/><use href="#mr" x="368.1" y="204.5"/><use href="#mk" x="372.2" y="204.5"/><use href="#mr" x="372.2" y="200.5"/><use href="#mk" x="376.2" y="204.5"/><use href="#mr" x="376.2" y="200.5"/><use href="#mr" x="380.2" y="200.5"/><use href="#mk" x="380.2" y="204.5"/><use href="#mr" x="380.2" y="196.4"/><use href="#mk" x="384.3" y="200.5"/><use href="#mr" x="384.3" y="196.4"/><use href="#mk" x="388.3" y="200.5"/><use href="#mr" x="388.3" y="196.4"/><use href="#mk" x="392.3" y="200.5"/><use href="#mk" x="392.3" y="196.4"/><use href="#mr" x="392.3" y="192.4"/><use href="#mk" x="396.4" y="196.4"/><use href="#mr" x="396.4" y="192.4"/><use href="#mk" x="400.4" y="196.4"/><use href="#mr" x="400.4" y="192.4"/><use href="#mk" x="400.4" y="192.4"/><use href="#mr" x="400.4" y="188.4"/><use href="#mk" x="404.4" y="192.4"/><use href="#mr" x="404.4" y="188.4"/><use href="#mk" x="408.5" y="192.4"/><use href="#mr" x="408.5" y="188.4"/><use href="#mk" x="408.5" y="188.4"/><use href="#mr" x="408.5" y="184.3"/><use href="#mk" x="412.5" y="188.4"/><use href="#mr" x="412.5" y="184.3"/><use href="#mk" x="416.6" y="188.4"/><use href="#mk" x="416.6" y="184.3"/><use href="#mr" x="416.6" y="184.3"/><use href="#mk" x="420.6" y="184.3"/><use href="#mr" x="420.6" y="180.3"/><use href="#mk" x="424.6" y="184.3"/><use href="#mk" x="424.6" y="180.3"/><use href="#mr" x="424.6" y="180.3"/><use href="#mk" x="428.7" y="180.3"/><use href="#mr" x="428.7" y="176.2"/><use href="#mk" x="432.7" y="176.2"/><use href="#mr" x="432.7" y="176.2"/><use href="#mk" x="436.7" y="176.2"/><use href="#mk" x="436.7" y="172.2"/><use href="#mr" x="436.7" y="172.2"/><use href="#mr" x="440.8" y="172.2"/><use href="#mk" x="440.8" y="172.2"/><use href="#mr" x="440.8" y="168.2"/><use href="#mk" x="444.8" y="168.2"/><use href="#mr" x="444.8" y="168.2"/><use href="#mk" x="444.8" y="164.1"/><use href="#mr" x="444.8" y="164.1"/><use href="#mk" x="448.9" y="164.1"/><use href="#mk" x="448.9" y="160.1"/><use href="#mr" x="448.9" y="160.1"/><use href="#mr" x="452.9" y="156.1"/><use href="#mk" x="452.9" y="156.1"/><use href="#mk" x="452.9" y="152"/><use href="#mr" x="452.9" y="152"/><use href="#mr" x="456.9" y="148"/><use href="#mk" x="456.9" y="148"/><use href="#mr" x="456.9" y="143.9"/><use href="#mk" x="461" y="143.9"/><use href="#mr" x="461" y="143.9"/><use href="#mk" x="461" y="139.9"/><use href="#mr" x="461" y="139.9"/><use href="#mk" x="465" y="135.9"/><use href="#mr" x="465" y="135.9"/><use href="#mk" x="465" y="131.8"/><use href="#mr" x="465" y="131.8"/><use href="#mk" x="469" y="127.8"/><use href="#mr" x="469" y="127.8"/><use href="#mk" x="469" y="115.7"/><use href="#mr" x="469" y="115.7"/><use href="#mr" x="473.1" y="111.6"/><use href="#mk" x="473.1" y="107.6"/><use href="#mr" x="473.1" y="107.6"/><use href="#mk" x="477.1" y="107.6"/><use href="#mr" x="477.1" y="107.6"/><use href="#mk" x="481.2" y="103.6"/><use href="#mr" x="481.2" y="107.6"/><use href="#mk" x="485.2" y="103.6"/><use href="#mr" x="485.2" y="107.6"/><use href="#mk" x="489.2" y="103.6"/><use href="#mr" x="489.2" y="107.6"/><use href="#mk" x="493.3" y="103.6"/><use href="#mr" x="493.3" y="107.6"/><use href="#mk" x="497.3" y="103.6"/><use href="#mr" x="497.3" y="107.6"/><use href="#mk" x="501.3" y="103.6"/><use href="#mr" x="501.3" y="107.6"/><use href="#mk" x="505.4" y="103.6"/><use href="#mr" x="505.4" y="107.6"/><use href="#mk" x="509.4" y="103.6"/><use href="#mr" x="509.4" y="107.6"/><use href="#mk" x="513.4" y="103.6"/><use href="#mr" x="513.4" y="107.6"/><use href="#mk" x="517.5" y="103.6"/><use href="#mk" x="517.5" y="99.5"/><use href="#mr" x="517.5" y="107.6"/><use href="#mk" x="521.5" y="99.5"/><use href="#mr" x="521.5" y="107.6"/><use href="#mk" x="525.6" y="99.5"/><use href="#mr" x="525.6" y="107.6"/><use href="#mk" x="529.6" y="99.5"/><use href="#mr" x="529.6" y="107.6"/><use href="#mk" x="533.6" y="99.5"/><use href="#mr" x="533.6" y="107.6"/><use href="#mk" x="537.7" y="99.5"/><use href="#mr" x="537.7" y="107.6"/><use href="#mk" x="541.7" y="99.5"/><use href="#mr" x="541.7" y="103.6"/><use href="#mk" x="545.7" y="99.5"/><use href="#mk" x="545.7" y="95.5"/><use href="#mr" x="545.7" y="103.6"/><use href="#mk" x="549.8" y="95.5"/><use href="#mr" x="549.8" y="103.6"/><use href="#mk" x="553.8" y="95.5"/><use href="#mr" x="553.8" y="103.6"/><use href="#mk" x="557.9" y="95.5"/><use href="#mr" x="557.9" y="103.6"/><use href="#mk" x="561.9" y="95.5"/><use href="#mr" x="561.9" y="103.6"/><use href="#mk" x="565.9" y="95.5"/><use href="#mr" x="565.9" y="103.6"/><use href="#mk" x="570" y="95.5"/><use href="#mr" x="570" y="103.6"/><use href="#mk" x="574" y="95.5"/><use href="#mr" x="574" y="103.6"/><use href="#mk" x="578" y="95.5"/><use href="#mr" x="578" y="103.6"/><use href="#mk" x="582.1" y="95.5"/><use href="#mr" x="582.1" y="103.6"/><use href="#mk" x="586.1" y="91.5"/><use href="#mr" x="586.1" y="103.6"/><use href="#mk" x="590.2" y="91.5"/><use href="#mr" x="590.2" y="99.5"/><use href="#mk" x="594.2" y="91.5"/><use href="#mr" x="594.2" y="99.5"/><use href="#mk" x="598.2" y="91.5"/><use href="#mr" x="598.2" y="99.5"/><use href="#mk" x="602.3" y="91.5"/><use href="#mr" x="602.3" y="99.5"/><use href="#mk" x="606.3" y="91.5"/><use href="#mr" x="606.3" y="99.5"/><use href="#mk" x="610.3" y="91.5"/><use href="#mr" x="610.3" y="99.5"/><use href="#mk" x="614.4" y="91.5"/><use href="#mr" x="614.4" y="99.5"/><use href="#mk" x="618.4" y="91.5"/><use href="#mr" x="618.4" y="99.5"/><use href="#mk" x="622.4" y="91.5"/><use href="#mr" x="622.4" y="99.5"/><use href="#mk" x="626.5" y="91.5"/><use href="#mr" x="626.5" y="99.5"/><use href="#mk" x="630.5" y="91.5"/><use href="#mr" x="630.5" y="99.5"/><use href="#mk" x="634.6" y="91.5"/><use href="#mr" x="634.6" y="95.5"/><use href="#mk" x="638.6" y="91.5"/><use href="#mr" x="638.6" y="95.5"/><use href="#mk" x="642.6" y="91.5"/><use href="#mr" x="642.6" y="95.5"/><use href="#mk" x="646.7" y="87.4"/><use href="#mr" x="646.7" y="95.5"/><use href="#mk" x="650.7" y="87.4"/><use href="#mr" x="650.7" y="95.5"/><use href="#mk" x="654.7" y="87.4"/><use href="#mr" x="654.7" y="95.5"/><use href="#mk" x="658.8" y="87.4"/><use href="#mr" x="658.8" y="95.5"/><use href="#mk" x="662.8" y="87.4"/><use href="#mr" x="662.8" y="95.5"/><use href="#mk" x="666.9" y="87.4"/><use href="#mr" x="666.9" y="95.5"/><use href="#mk" x="670.9" y="87.4"/><use href="#mr" x="670.9" y="95.5"/><use href="#mk" x="674.9" y="87.4"/><use href="#mr" x="674.9" y="95.5"/><use href="#mk" x="679" y="87.4"/><use href="#mr" x="679" y="95.5"/><use href="#mk" x="683" y="87.4"/><use href="#mr" x="683" y="95.5"/><use href="#mk" x="687" y="87.4"/><use href="#mr" x="687" y="95.5"/><use href="#mk" x="691.1" y="87.4"/><use href="#mr" x="691.1" y="95.5"/><use href="#mk" x="695.1" y="87.4"/><use href="#mr" x="695.1" y="95.5"/><use href="#mk" x="699.2" y="87.4"/><use href="#mr" x="699.2" y="95.5"/><use href="#mk" x="703.2" y="87.4"/><use href="#mr" x="703.2" y="95.5"/><use href="#mk" x="707.2" y="87.4"/><use href="#mr" x="707.2" y="95.5"/><use href="#mk" x="711.3" y="87.4"/><use href="#mr" x="711.3" y="95.5"/><use href="#mk" x="715.3" y="87.4"/><use href="#mr" x="715.3" y="95.5"/><use href="#mk" x="719.3" y="87.4"/><use href="#mr" x="719.3" y="95.5"/><use href="#mk" x="723.4" y="87.4"/><use href="#mr" x="723.4" y="95.5"/><use href="#mk" x="727.4" y="87.4"/><use href="#mr" x="727.4" y="95.5"/><use href="#mk" x="731.4" y="87.4"/><use href="#mr" x="731.4" y="95.5"/><use href="#mk" x="735.5" y="87.4"/><use href="#mk" x="735.5" y="91.5"/><use href="#mr" x="735.5" y="95.5"/><use href="#mk" x="739.5" y="91.5"/><use href="#mr" x="739.5" y="99.5"/><use href="#mk" x="743.6" y="91.5"/><use href="#mr" x="743.6" y="99.5"/><use href="#mk" x="747.6" y="91.5"/><use href="#mr" x="747.6" y="99.5"/><use href="#mk" x="751.6" y="91.5"/><use href="#mr" x="751.6" y="99.5"/><use href="#mk" x="755.7" y="91.5"/><use href="#mr" x="755.7" y="99.5"/><use href="#mk" x="759.7" y="91.5"/><use href="#mr" x="759.7" y="99.5"/><use href="#mk" x="763.7" y="91.5"/><use href="#mr" x="763.7" y="99.5"/><use href="#mk" x="767.8" y="91.5"/><use href="#mr" x="767.8" y="99.5"/><use href="#mk" x="771.8" y="91.5"/><use href="#mk" x="771.8" y="95.5"/><use href="#mr" x="771.8" y="99.5"/><use href="#mk" x="775.9" y="95.5"/><use href="#mr" x="775.9" y="99.5"/><use href="#mr" x="779.9" y="99.5"/><use href="#mk" x="779.9" y="95.5"/><use href="#mr" x="779.9" y="103.6"/><use href="#mk" x="783.9" y="95.5"/><use href="#mk" x="783.9" y="99.5"/><use href="#mr" x="783.9" y="103.6"/><use href="#mk" x="788" y="99.5"/><use href="#mr" x="788" y="103.6"/><use href="#mk" x="792" y="99.5"/><use href="#mk" x="792" y="103.6"/><use href="#mr" x="792" y="103.6"/><use href="#mk" x="796" y="103.6"/><use href="#mr" x="796" y="103.6"/><use href="#mk" x="800.1" y="103.6"/><use href="#mk" x="800.1" y="107.6"/><use href="#mr" x="800.1" y="103.6"/><use href="#mk" x="804.1" y="107.6"/><use href="#mr" x="804.1" y="103.6"/><use href="#mk" x="808.1" y="111.6"/><use href="#mr" x="808.1" y="107.6"/><use href="#mk" x="812.2" y="111.6"/><use href="#mk" x="812.2" y="115.7"/><use href="#mr" x="812.2" y="107.6"/><use href="#mk" x="816.2" y="115.7"/><use href="#mr" x="816.2" y="107.6"/><use href="#mk" x="820.3" y="119.7"/><use href="#mr" x="820.3" y="107.6"/><use href="#mk" x="824.3" y="119.7"/><use href="#mk" x="824.3" y="123.8"/><use href="#mr" x="824.3" y="111.6"/><use href="#mk" x="828.3" y="123.8"/><use href="#mr" x="828.3" y="111.6"/><use href="#mr" x="832.4" y="111.6"/><use href="#mk" x="832.4" y="127.8"/><use href="#mk" x="832.4" y="131.8"/><use href="#mr" x="832.4" y="115.7"/><use href="#mk" x="836.4" y="131.8"/><use href="#mr" x="836.4" y="115.7"/><use href="#mr" x="840.4" y="115.7"/><use href="#mk" x="840.4" y="135.9"/><use href="#mr" x="840.4" y="119.7"/><use href="#mk" x="844.5" y="135.9"/><use href="#mk" x="844.5" y="139.9"/><use href="#mr" x="844.5" y="119.7"/><use href="#mk" x="848.5" y="139.9"/><use href="#mr" x="848.5" y="119.7"/><use href="#mk" x="852.6" y="143.9"/><use href="#mr" x="852.6" y="123.8"/><use href="#mk" x="856.6" y="148"/><use href="#mr" x="856.6" y="123.8"/><use href="#mr" x="860.6" y="123.8"/><use href="#mk" x="860.6" y="152"/><use href="#mr" x="860.6" y="127.8"/><use href="#mk" x="864.7" y="156.1"/><use href="#mk" x="864.7" y="160.1"/><use href="#mr" x="864.7" y="127.8"/><use href="#mk" x="868.7" y="160.1"/><use href="#mk" x="868.7" y="164.1"/><use href="#mr" x="868.7" y="131.8"/><use href="#mk" x="872.7" y="168.2"/><use href="#mk" x="872.7" y="172.2"/><use href="#mr" x="872.7" y="131.8"/><use href="#mk" x="876.8" y="176.2"/><use href="#mk" x="876.8" y="180.3"/><use href="#mr" x="876.8" y="135.9"/><use href="#mk" x="880.8" y="184.3"/><use href="#mr" x="880.8" y="135.9"/><use href="#mk" x="880.8" y="188.4"/><use href="#mr" x="880.8" y="139.9"/><use href="#mk" x="884.9" y="192.4"/><use href="#mr" x="884.9" y="139.9"/><use href="#mk" x="884.9" y="196.4"/><use href="#mk" x="884.9" y="200.5"/><use href="#mr" x="884.9" y="143.9"/><use href="#mk" x="888.9" y="204.5"/><use href="#mr" x="888.9" y="143.9"/><use href="#mk" x="888.9" y="208.5"/><use href="#mr" x="888.9" y="148"/><use href="#mk" x="892.9" y="212.6"/><use href="#mr" x="892.9" y="148"/><use href="#mk" x="892.9" y="216.6"/><use href="#mr" x="892.9" y="152"/><use href="#mk" x="897" y="220.6"/><use href="#mk" x="897" y="228.7"/><use href="#mr" x="897" y="152"/><use href="#mk" x="901" y="232.8"/><use href="#mk" x="901" y="236.8"/><use href="#mr" x="901" y="156.1"/><use href="#mk" x="905" y="240.8"/><use href="#mk" x="905" y="248.9"/><use href="#mr" x="905" y="160.1"/><use href="#mk" x="909.1" y="252.9"/><use href="#mk" x="909.1" y="257"/><use href="#mr" x="909.1" y="164.1"/><use href="#mk" x="913.1" y="265.1"/><use href="#mk" x="913.1" y="273.1"/><use href="#mr" x="913.1" y="168.2"/><use href="#mk" x="917.1" y="281.2"/><use href="#mr" x="917.1" y="172.2"/><use href="#mk" x="917.1" y="285.2"/><use href="#mr" x="917.1" y="176.2"/><use href="#mk" x="921.2" y="297.4"/><use href="#mr" x="921.2" y="176.2"/><use href="#mk" x="921.2" y="305.4"/><use href="#mr" x="921.2" y="180.3"/><use href="#mk" x="925.2" y="313.5"/><use href="#mr" x="925.2" y="180.3"/><use href="#mk" x="925.2" y="325.6"/><use href="#mr" x="925.2" y="184.3"/><use href="#mk" x="929.3" y="337.7"/><use href="#mk" x="929.3" y="345.8"/><use href="#mr" x="929.3" y="188.4"/><use href="#mk" x="933.3" y="349.8"/><use href="#mr" x="933.3" y="192.4"/><use href="#mk" x="933.3" y="357.9"/><use href="#mr" x="933.3" y="196.4"/><use href="#mk" x="937.3" y="366"/><use href="#mr" x="937.3" y="196.4"/><use href="#mk" x="937.3" y="374.1"/><use href="#mr" x="937.3" y="200.5"/><use href="#mk" x="937.3" y="382.1"/><use href="#mr" x="937.3" y="204.5"/><use href="#mk" x="941.4" y="394.2"/><use href="#mr" x="941.4" y="208.5"/><use href="#mk" x="941.4" y="406.3"/><use href="#mr" x="941.4" y="212.6"/><use href="#mk" x="945.4" y="422.5"/><use href="#mr" x="945.4" y="216.6"/><use href="#mk" x="945.4" y="434.6"/><use href="#mr" x="945.4" y="220.6"/><use href="#mk" x="949.4" y="450.8"/><use href="#mk" x="949.4" y="466.9"/><use href="#mr" x="949.4" y="224.7"/><use href="#mk" x="953.5" y="483.1"/><use href="#mr" x="953.5" y="232.8"/><use href="#mk" x="953.5" y="495.2"/><use href="#mr" x="953.5" y="236.8"/><use href="#mk" x="957.5" y="507.3"/><use href="#mr" x="957.5" y="240.8"/><use href="#mk" x="957.5" y="523.4"/><use href="#mr" x="957.5" y="244.9"/><use href="#mk" x="961.6" y="535.5"/><use href="#mr" x="961.6" y="248.9"/><use href="#mk" x="961.6" y="551.7"/><use href="#mr" x="961.6" y="257"/><use href="#mk" x="965.6" y="563.8"/><use href="#mr" x="965.6" y="261"/><use href="#mk" x="965.6" y="584"/><use href="#mr" x="965.6" y="265.1"/><use href="#mk" x="969.6" y="600.1"/><use href="#mr" x="969.6" y="269.1"/><use href="#mk" x="969.6" y="620.3"/><use href="#mr" x="969.6" y="273.1"/><use href="#mk" x="973.7" y="640.5"/><use href="#mr" x="973.7" y="281.2"/><use href="#mk" x="973.7" y="656.6"/><use href="#mr" x="973.7" y="285.2"/><use href="#mk" x="977.7" y="672.8"/><use href="#mr" x="977.7" y="289.3"/><use href="#mk" x="977.7" y="688.9"/><use href="#mr" x="977.7" y="293.3"/><use href="#mk" x="981.7" y="705.1"/><use href="#mr" x="981.7" y="297.4"/><use href="#mk" x="981.7" y="725.3"/><use href="#mr" x="981.7" y="305.4"/><use href="#mk" x="985.8" y="741.4"/><use href="#mr" x="985.8" y="309.5"/><use href="#mk" x="985.8" y="761.6"/><use href="#mr" x="985.8" y="317.5"/><use href="#mk" x="989.8" y="781.8"/><use href="#mr" x="989.8" y="325.6"/><use href="#mk" x="989.8" y="802"/><use href="#mr" x="989.8" y="333.7"/><use href="#mk" x="993.9" y="822.2"/><use href="#mr" x="993.9" y="337.7"/><use href="#mk" x="993.9" y="846.4"/><use href="#mr" x="993.9" y="345.8"/><use href="#mk" x="993.9" y="870.6"/><use href="#mr" x="993.9" y="353.9"/><use href="#mk" x="997.9" y="894.8"/><use href="#mr" x="997.9" y="361.9"/><use href="#mk" x="997.9" y="919"/><use href="#mr" x="997.9" y="370"/><use href="#mk" x="1001.9" y="939.2"/><use href="#mr" x="1001.9" y="378.1"/><use href="#mk" x="1001.9" y="963.5"/><use href="#mr" x="1001.9" y="386.2"/><use href="#mk" x="1006" y="987.7"/><use href="#mr" x="1006" y="398.3"/><use href="#mk" x="1006" y="1011.9"/><use href="#mr" x="1006" y="406.3"/><use href="#mk" x="1010" y="1036.1"/><use href="#mr" x="1010" y="418.5"/><use href="#mk" x="1010" y="1060.3"/><use href="#mr" x="1010" y="430.6"/><use href="#mk" x="1014" y="1084.6"/><use href="#mr" x="1014" y="438.6"/><use href="#mk" x="1014" y="1112.8"/><use href="#mr" x="1014" y="446.7"/><use href="#mk" x="1018.1" y="1137"/><use href="#mr" x="1018.1" y="458.8"/><use href="#mk" x="1018.1" y="1161.3"/><use href="#mr" x="1018.1" y="466.9"/><use href="#mk" x="1022.1" y="1181.5"/><use href="#mr" x="1022.1" y="479"/><use href="#mk" x="1022.1" y="1201.6"/><use href="#mr" x="1022.1" y="491.1"/><use href="#mk" x="1026.1" y="1213.8"/><use href="#mr" x="1026.1" y="507.3"/><use href="#mk" x="1026.1" y="1229.9"/><use href="#mr" x="1026.1" y="519.4"/><use href="#mk" x="1030.2" y="1246"/><use href="#mr" x="1030.2" y="527.5"/><use href="#mk" x="1030.2" y="1262.2"/><use href="#mr" x="1030.2" y="535.5"/><use href="#mk" x="1034.2" y="1278.3"/><use href="#mr" x="1034.2" y="543.6"/><use href="#mk" x="1034.2" y="1294.5"/><use href="#mr" x="1034.2" y="555.7"/><use href="#mk" x="1038.3" y="1306.6"/><use href="#mr" x="1038.3" y="567.8"/><use href="#mk" x="1038.3" y="1318.7"/><use href="#mr" x="1038.3" y="579.9"/><use href="#mk" x="1042.3" y="1330.8"/><use href="#mr" x="1042.3" y="596.1"/><use href="#mk" x="1042.3" y="1342.9"/><use href="#mr" x="1042.3" y="612.2"/><use href="#mk" x="1046.3" y="1351"/><use href="#mr" x="1046.3" y="628.4"/><use href="#mk" x="1046.3" y="1355"/><use href="#mr" x="1046.3" y="636.5"/><use href="#mk" x="1046.3" y="1363.1"/><use href="#mr" x="1046.3" y="648.6"/><use href="#mk" x="1050.4" y="1367.2"/><use href="#mr" x="1050.4" y="664.7"/><use href="#mk" x="1050.4" y="1375.2"/><use href="#mr" x="1050.4" y="676.8"/><use href="#mk" x="1054.4" y="1379.3"/><use href="#mr" x="1054.4" y="688.9"/><use href="#mk" x="1054.4" y="1383.3"/><use href="#mr" x="1054.4" y="705.1"/><use href="#mk" x="1058.4" y="1383.3"/><use href="#mr" x="1058.4" y="721.2"/><use href="#mk" x="1058.4" y="1387.3"/><use href="#mr" x="1058.4" y="737.4"/><use href="#mr" x="1062.5" y="753.5"/><use href="#mk" x="1062.5" y="1387.3"/><use href="#mr" x="1062.5" y="769.7"/><use href="#mr" x="1066.5" y="785.8"/><use href="#mk" x="1066.5" y="1387.3"/><use href="#mr" x="1066.5" y="806"/><use href="#mk" x="1070.6" y="1383.3"/><use href="#mr" x="1070.6" y="822.2"/><use href="#mk" x="1070.6" y="1379.3"/><use href="#mr" x="1070.6" y="842.3"/><use href="#mk" x="1074.6" y="1375.2"/><use href="#mr" x="1074.6" y="862.5"/><use href="#mk" x="1074.6" y="1371.2"/><use href="#mr" x="1074.6" y="878.7"/><use href="#mk" x="1078.6" y="1367.2"/><use href="#mr" x="1078.6" y="894.8"/><use href="#mk" x="1078.6" y="1359.1"/><use href="#mr" x="1078.6" y="911"/><use href="#mk" x="1082.7" y="1351"/><use href="#mr" x="1082.7" y="923.1"/><use href="#mk" x="1082.7" y="1342.9"/><use href="#mr" x="1082.7" y="939.2"/><use href="#mk" x="1086.7" y="1330.8"/><use href="#mr" x="1086.7" y="959.4"/><use href="#mk" x="1086.7" y="1322.7"/><use href="#mr" x="1086.7" y="975.6"/><use href="#mk" x="1090.7" y="1314.7"/><use href="#mr" x="1090.7" y="995.8"/><use href="#mk" x="1090.7" y="1306.6"/><use href="#mr" x="1090.7" y="1015.9"/><use href="#mk" x="1094.8" y="1298.5"/><use href="#mr" x="1094.8" y="1036.1"/><use href="#mk" x="1094.8" y="1290.5"/><use href="#mr" x="1094.8" y="1056.3"/><use href="#mk" x="1098.8" y="1274.3"/><use href="#mr" x="1098.8" y="1076.5"/><use href="#mk" x="1098.8" y="1262.2"/><use href="#mr" x="1098.8" y="1092.6"/><use href="#mk" x="1102.9" y="1250.1"/><use href="#mr" x="1102.9" y="1112.8"/><use href="#mk" x="1102.9" y="1238"/><use href="#mr" x="1102.9" y="1133"/><use href="#mk" x="1102.9" y="1225.9"/><use href="#mr" x="1102.9" y="1149.2"/><use href="#mk" x="1106.9" y="1213.8"/><use href="#mr" x="1106.9" y="1169.3"/><use href="#mk" x="1106.9" y="1205.7"/><use href="#mr" x="1106.9" y="1189.5"/><use href="#mk" x="1110.9" y="1193.6"/><use href="#mr" x="1110.9" y="1205.7"/><use href="#mk" x="1110.9" y="1181.5"/><use href="#mr" x="1110.9" y="1217.8"/><use href="#mk" x="1115" y="1173.4"/><use href="#mr" x="1115" y="1233.9"/><use href="#mk" x="1115" y="1161.3"/><use href="#mr" x="1115" y="1242"/><use href="#mk" x="1119" y="1153.2"/><use href="#mr" x="1119" y="1254.1"/><use href="#mk" x="1119" y="1141.1"/><use href="#mr" x="1119" y="1270.3"/><use href="#mk" x="1123" y="1133"/><use href="#mr" x="1123" y="1282.4"/><use href="#mk" x="1123" y="1120.9"/><use href="#mr" x="1123" y="1298.5"/><use href="#mk" x="1127.1" y="1108.8"/><use href="#mr" x="1127.1" y="1314.7"/><use href="#mk" x="1127.1" y="1096.7"/><use href="#mr" x="1127.1" y="1326.8"/><use href="#mk" x="1131.1" y="1084.6"/><use href="#mr" x="1131.1" y="1338.9"/><use href="#mk" x="1131.1" y="1072.5"/><use href="#mr" x="1131.1" y="1347"/><use href="#mk" x="1135.1" y="1060.3"/><use href="#mr" x="1135.1" y="1355"/><use href="#mk" x="1135.1" y="1048.2"/><use href="#mr" x="1135.1" y="1367.2"/><use href="#mk" x="1139.2" y="1036.1"/><use href="#mr" x="1139.2" y="1375.2"/><use href="#mk" x="1139.2" y="1020"/><use href="#mr" x="1139.2" y="1391.4"/><use href="#mk" x="1143.2" y="1007.9"/><use href="#mr" x="1143.2" y="1399.5"/><use href="#mk" x="1143.2" y="991.7"/><use href="#mr" x="1143.2" y="1403.5"/><use href="#mk" x="1147.3" y="979.6"/><use href="#mr" x="1147.3" y="1411.6"/><use href="#mk" x="1147.3" y="967.5"/><use href="#mr" x="1147.3" y="1415.6"/><use href="#mk" x="1151.3" y="955.4"/><use href="#mr" x="1151.3" y="1419.6"/><use href="#mk" x="1151.3" y="947.3"/><use href="#mr" x="1151.3" y="1423.7"/><use href="#mk" x="1155.3" y="943.3"/><use href="#mk" x="1155.3" y="935.2"/><use href="#mr" x="1155.3" y="1427.7"/><use href="#mk" x="1155.3" y="927.1"/><use href="#mr" x="1155.3" y="1431.7"/><use href="#mk" x="1159.4" y="919"/><use href="#mr" x="1159.4" y="1431.7"/><use href="#mk" x="1159.4" y="902.9"/><use href="#mr" x="1159.4" y="1435.8"/><use href="#mk" x="1163.4" y="894.8"/><use href="#mk" x="1163.4" y="882.7"/><use href="#mr" x="1163.4" y="1435.8"/><use href="#mk" x="1167.4" y="874.6"/><use href="#mk" x="1167.4" y="866.6"/><use href="#mr" x="1167.4" y="1431.7"/><use href="#mk" x="1171.5" y="858.5"/><use href="#mr" x="1171.5" y="1427.7"/><use href="#mk" x="1171.5" y="850.4"/><use href="#mr" x="1171.5" y="1423.7"/><use href="#mk" x="1175.5" y="842.3"/><use href="#mr" x="1175.5" y="1419.6"/><use href="#mk" x="1175.5" y="838.3"/><use href="#mr" x="1175.5" y="1415.6"/><use href="#mk" x="1179.6" y="830.2"/><use href="#mr" x="1179.6" y="1411.6"/><use href="#mk" x="1179.6" y="822.2"/><use href="#mr" x="1179.6" y="1407.5"/><use href="#mk" x="1183.6" y="814.1"/><use href="#mr" x="1183.6" y="1399.5"/><use href="#mk" x="1183.6" y="810"/><use href="#mr" x="1183.6" y="1395.4"/><use href="#mk" x="1187.6" y="802"/><use href="#mr" x="1187.6" y="1387.3"/><use href="#mk" x="1187.6" y="793.9"/><use href="#mr" x="1187.6" y="1383.3"/><use href="#mk" x="1191.7" y="785.8"/><use href="#mr" x="1191.7" y="1375.2"/><use href="#mk" x="1191.7" y="777.8"/><use href="#mr" x="1191.7" y="1371.2"/><use href="#mk" x="1195.7" y="769.7"/><use href="#mr" x="1195.7" y="1363.1"/><use href="#mk" x="1195.7" y="761.6"/><use href="#mr" x="1195.7" y="1355"/><use href="#mk" x="1199.7" y="753.5"/><use href="#mr" x="1199.7" y="1347"/><use href="#mk" x="1199.7" y="745.5"/><use href="#mr" x="1199.7" y="1338.9"/><use href="#mk" x="1203.8" y="737.4"/><use href="#mr" x="1203.8" y="1334.9"/><use href="#mk" x="1203.8" y="729.3"/><use href="#mr" x="1203.8" y="1326.8"/><use href="#mk" x="1207.8" y="721.2"/><use href="#mr" x="1207.8" y="1314.7"/><use href="#mk" x="1207.8" y="713.2"/><use href="#mr" x="1207.8" y="1298.5"/><use href="#mk" x="1207.8" y="709.1"/><use href="#mr" x="1207.8" y="1286.4"/><use href="#mk" x="1211.8" y="701.1"/><use href="#mr" x="1211.8" y="1270.3"/><use href="#mk" x="1211.8" y="693"/><use href="#mr" x="1211.8" y="1258.2"/><use href="#mk" x="1215.9" y="688.9"/><use href="#mr" x="1215.9" y="1250.1"/><use href="#mk" x="1215.9" y="680.9"/><use href="#mr" x="1215.9" y="1242"/><use href="#mk" x="1219.9" y="676.8"/><use href="#mr" x="1219.9" y="1233.9"/><use href="#mk" x="1219.9" y="668.8"/><use href="#mr" x="1219.9" y="1225.9"/><use href="#mk" x="1224" y="664.7"/><use href="#mr" x="1224" y="1213.8"/><use href="#mk" x="1224" y="656.6"/><use href="#mr" x="1224" y="1205.7"/><use href="#mk" x="1228" y="652.6"/><use href="#mr" x="1228" y="1197.6"/><use href="#mk" x="1228" y="648.6"/><use href="#mr" x="1228" y="1185.5"/><use href="#mk" x="1232" y="640.5"/><use href="#mr" x="1232" y="1177.4"/><use href="#mk" x="1232" y="636.5"/><use href="#mr" x="1232" y="1165.3"/><use href="#mk" x="1236.1" y="632.4"/><use href="#mr" x="1236.1" y="1157.2"/><use href="#mk" x="1236.1" y="628.4"/><use href="#mr" x="1236.1" y="1145.1"/><use href="#mk" x="1240.1" y="624.3"/><use href="#mr" x="1240.1" y="1133"/><use href="#mk" x="1240.1" y="620.3"/><use href="#mr" x="1240.1" y="1124.9"/><use href="#mk" x="1244.1" y="612.2"/><use href="#mr" x="1244.1" y="1112.8"/><use href="#mk" x="1244.1" y="608.2"/><use href="#mr" x="1244.1" y="1100.7"/><use href="#mk" x="1248.2" y="604.2"/><use href="#mr" x="1248.2" y="1092.6"/><use href="#mk" x="1248.2" y="600.1"/><use href="#mr" x="1248.2" y="1080.5"/><use href="#mk" x="1252.2" y="596.1"/><use href="#mr" x="1252.2" y="1072.5"/><use href="#mk" x="1252.2" y="592.1"/><use href="#mr" x="1252.2" y="1060.3"/><use href="#mk" x="1256.3" y="588"/><use href="#mr" x="1256.3" y="1052.3"/><use href="#mk" x="1256.3" y="579.9"/><use href="#mr" x="1256.3" y="1044.2"/><use href="#mk" x="1260.3" y="575.9"/><use href="#mr" x="1260.3" y="1032.1"/><use href="#mk" x="1260.3" y="571.9"/><use href="#mr" x="1260.3" y="1024"/><use href="#mk" x="1264.3" y="567.8"/><use href="#mr" x="1264.3" y="1015.9"/><use href="#mr" x="1264.3" y="1007.9"/><use href="#mk" x="1264.3" y="563.8"/><use href="#mr" x="1264.3" y="995.8"/><use href="#mk" x="1268.4" y="559.8"/><use href="#mr" x="1268.4" y="987.7"/><use href="#mk" x="1268.4" y="555.7"/><use href="#mr" x="1268.4" y="979.6"/><use href="#mk" x="1272.4" y="551.7"/><use href="#mr" x="1272.4" y="971.5"/><use href="#mk" x="1272.4" y="547.6"/><use href="#mr" x="1272.4" y="963.5"/><use href="#mk" x="1276.4" y="543.6"/><use href="#mr" x="1276.4" y="955.4"/><use href="#mk" x="1276.4" y="539.6"/><use href="#mr" x="1276.4" y="947.3"/><use href="#mr" x="1280.5" y="943.3"/><use href="#mk" x="1280.5" y="535.5"/><use href="#mr" x="1280.5" y="935.2"/><use href="#mk" x="1284.5" y="531.5"/><use href="#mr" x="1284.5" y="931.2"/><use href="#mk" x="1284.5" y="527.5"/><use href="#mr" x="1284.5" y="923.1"/><use href="#mk" x="1288.6" y="523.4"/><use href="#mr" x="1288.6" y="915"/><use href="#mk" x="1288.6" y="519.4"/><use href="#mr" x="1288.6" y="902.9"/><use href="#mk" x="1292.6" y="519.4"/><use href="#mr" x="1292.6" y="894.8"/><use href="#mk" x="1292.6" y="515.3"/><use href="#mr" x="1292.6" y="886.8"/><use href="#mk" x="1296.6" y="511.3"/><use href="#mr" x="1296.6" y="878.7"/><use href="#mk" x="1296.6" y="507.3"/><use href="#mr" x="1296.6" y="870.6"/><use href="#mk" x="1300.7" y="507.3"/><use href="#mr" x="1300.7" y="866.6"/><use href="#mk" x="1300.7" y="503.2"/><use href="#mr" x="1300.7" y="858.5"/><use href="#mr" x="1304.7" y="854.5"/><use href="#mk" x="1304.7" y="499.2"/><use href="#mr" x="1304.7" y="850.4"/><use href="#mk" x="1308.7" y="495.2"/><use href="#mr" x="1308.7" y="842.3"/><use href="#mk" x="1308.7" y="491.1"/><use href="#mr" x="1308.7" y="838.3"/><use href="#mk" x="1312.8" y="491.1"/><use href="#mr" x="1312.8" y="834.3"/><use href="#mk" x="1312.8" y="487.1"/><use href="#mr" x="1312.8" y="830.2"/><use href="#mk" x="1316.8" y="483.1"/><use href="#mr" x="1316.8" y="826.2"/><use href="#mr" x="1316.8" y="818.1"/><use href="#mk" x="1316.8" y="479"/><use href="#mr" x="1316.8" y="814.1"/><use href="#mr" x="1320.8" y="810"/><use href="#mk" x="1320.8" y="475"/><use href="#mr" x="1320.8" y="802"/><use href="#mk" x="1324.9" y="470.9"/><use href="#mr" x="1324.9" y="793.9"/><use href="#mk" x="1324.9" y="466.9"/><use href="#mr" x="1324.9" y="785.8"/><use href="#mk" x="1328.9" y="466.9"/><use href="#mr" x="1328.9" y="777.8"/><use href="#mk" x="1328.9" y="462.9"/><use href="#mr" x="1328.9" y="769.7"/><use href="#mk" x="1333" y="462.9"/><use href="#mr" x="1333" y="761.6"/><use href="#mk" x="1333" y="458.8"/><use href="#mr" x="1333" y="757.6"/><use href="#mk" x="1337" y="458.8"/><use href="#mr" x="1337" y="749.5"/><use href="#mk" x="1337" y="454.8"/><use href="#mr" x="1337" y="745.5"/><use href="#mk" x="1341" y="454.8"/><use href="#mr" x="1341" y="737.4"/><use href="#mk" x="1341" y="450.8"/><use href="#mr" x="1341" y="733.3"/><use href="#mr" x="1345.1" y="725.3"/><use href="#mk" x="1345.1" y="450.8"/><use href="#mr" x="1345.1" y="721.2"/><use href="#mr" x="1349.1" y="717.2"/><use href="#mk" x="1349.1" y="446.7"/><use href="#mr" x="1349.1" y="709.1"/><use href="#mr" x="1353.1" y="705.1"/><use href="#mk" x="1353.1" y="442.7"/><use href="#mr" x="1353.1" y="701.1"/><use href="#mk" x="1357.2" y="442.7"/><use href="#mr" x="1357.2" y="697"/><use href="#mk" x="1357.2" y="438.6"/><use href="#mr" x="1357.2" y="688.9"/><use href="#mr" x="1361.2" y="684.9"/><use href="#mk" x="1361.2" y="438.6"/><use href="#mr" x="1361.2" y="680.9"/><use href="#mr" x="1365.3" y="676.8"/><use href="#mk" x="1365.3" y="434.6"/><use href="#mr" x="1365.3" y="668.8"/><use href="#mk" x="1369.3" y="434.6"/><use href="#mr" x="1369.3" y="664.7"/><use href="#mr" x="1369.3" y="660.7"/><use href="#mk" x="1369.3" y="430.6"/><use href="#mr" x="1369.3" y="656.6"/><use href="#mr" x="1373.3" y="652.6"/><use href="#mk" x="1373.3" y="426.5"/><use href="#mr" x="1373.3" y="648.6"/><use href="#mk" x="1377.4" y="426.5"/><use href="#mr" x="1377.4" y="644.5"/><use href="#mk" x="1377.4" y="422.5"/><use href="#mr" x="1377.4" y="640.5"/><use href="#mk" x="1381.4" y="422.5"/><use href="#mr" x="1381.4" y="636.5"/><use href="#mk" x="1381.4" y="418.5"/><use href="#mr" x="1381.4" y="632.4"/><use href="#mr" x="1385.4" y="628.4"/><use href="#mk" x="1385.4" y="418.5"/><use href="#mr" x="1385.4" y="624.3"/><use href="#mr" x="1389.5" y="620.3"/><use href="#mk" x="1389.5" y="414.4"/><use href="#mr" x="1389.5" y="616.3"/><use href="#mr" x="1393.5" y="612.2"/><use href="#mk" x="1393.5" y="410.4"/><use href="#mr" x="1393.5" y="608.2"/><use href="#mr" x="1397.6" y="604.2"/><use href="#mk" x="1397.6" y="406.3"/><use href="#mr" x="1397.6" y="600.1"/><use href="#mr" x="1401.6" y="600.1"/><use href="#mk" x="1401.6" y="402.3"/><use href="#mr" x="1401.6" y="596.1"/><use href="#mr" x="1405.6" y="592.1"/><use href="#mk" x="1405.6" y="398.3"/><use href="#mr" x="1405.6" y="588"/><use href="#mk" x="1409.7" y="398.3"/><use href="#mr" x="1409.7" y="584"/><use href="#mk" x="1409.7" y="394.2"/><use href="#mr" x="1409.7" y="579.9"/><use href="#mk" x="1413.7" y="394.2"/><use href="#mk" x="1413.7" y="390.2"/><use href="#mr" x="1413.7" y="575.9"/><use href="#mr" x="1417.7" y="571.9"/><use href="#mk" x="1417.7" y="390.2"/><use href="#mr" x="1417.7" y="567.8"/><use href="#mr" x="1421.8" y="563.8"/><use href="#mk" x="1421.8" y="386.2"/><use href="#mr" x="1421.8" y="559.8"/><use href="#mk" x="1425.8" y="386.2"/><use href="#mr" x="1425.8" y="559.8"/><use href="#mr" x="1425.8" y="555.7"/><use href="#mk" x="1425.8" y="382.1"/><use href="#mr" x="1425.8" y="551.7"/><use href="#mk" x="1429.8" y="382.1"/><use href="#mk" x="1429.8" y="378.1"/><use href="#mr" x="1429.8" y="547.6"/><use href="#mr" x="1433.9" y="543.6"/><use href="#mk" x="1433.9" y="378.1"/><use href="#mr" x="1433.9" y="539.6"/><use href="#mr" x="1437.9" y="539.6"/><use href="#mk" x="1437.9" y="374.1"/><use href="#mr" x="1437.9" y="535.5"/><use href="#mk" x="1442" y="374.1"/><use href="#mk" x="1442" y="370"/><use href="#mr" x="1442" y="531.5"/><use href="#mr" x="1446" y="527.5"/><use href="#mk" x="1446" y="370"/><use href="#mr" x="1446" y="523.4"/><use href="#mr" x="1450" y="523.4"/><use href="#mk" x="1450" y="366"/><use href="#mr" x="1450" y="519.4"/><use href="#mr" x="1454.1" y="519.4"/><use href="#mk" x="1454.1" y="366"/><use href="#mr" x="1454.1" y="515.3"/><use href="#mk" x="1458.1" y="361.9"/><use href="#mr" x="1458.1" y="511.3"/><use href="#mk" x="1462.1" y="361.9"/><use href="#mr" x="1462.1" y="511.3"/><use href="#mk" x="1462.1" y="357.9"/><use href="#mr" x="1462.1" y="507.3"/><use href="#mr" x="1466.2" y="507.3"/><use href="#mk" x="1466.2" y="357.9"/><use href="#mr" x="1466.2" y="503.2"/><use href="#mk" x="1470.2" y="357.9"/><use href="#mr" x="1470.2" y="503.2"/><use href="#mk" x="1470.2" y="353.9"/><use href="#mr" x="1470.2" y="499.2"/><use href="#mr" x="1474.3" y="499.2"/><use href="#mk" x="1474.3" y="353.9"/><use href="#mr" x="1474.3" y="495.2"/><use href="#mr" x="1478.3" y="495.2"/><use href="#mk" x="1478.3" y="353.9"/><use href="#mk" x="1478.3" y="349.8"/><use href="#mr" x="1478.3" y="491.1"/><use href="#mr" x="1482.3" y="487.1"/><use href="#mk" x="1482.3" y="349.8"/><use href="#mr" x="1482.3" y="483.1"/><use href="#mr" x="1486.4" y="483.1"/><use href="#mk" x="1486.4" y="349.8"/><use href="#mr" x="1486.4" y="479"/><use href="#mr" x="1490.4" y="479"/><use href="#mk" x="1490.4" y="345.8"/><use href="#mr" x="1490.4" y="475"/><use href="#mr" x="1494.4" y="475"/><use href="#mk" x="1494.4" y="345.8"/><use href="#mr" x="1494.4" y="470.9"/><use href="#mk" x="1498.5" y="345.8"/><use href="#mr" x="1498.5" y="470.9"/><use href="#mk" x="1498.5" y="341.8"/><use href="#mr" x="1498.5" y="466.9"/><use href="#mk" x="1502.5" y="341.8"/><use href="#mr" x="1502.5" y="466.9"/><use href="#mk" x="1506.6" y="341.8"/><use href="#mr" x="1506.6" y="462.9"/><use href="#mk" x="1510.6" y="337.7"/><use href="#mr" x="1510.6" y="458.8"/><use href="#mr" x="1514.6" y="458.8"/><use href="#mk" x="1514.6" y="337.7"/><use href="#mr" x="1514.6" y="454.8"/><use href="#mk" x="1518.7" y="333.7"/><use href="#mr" x="1518.7" y="454.8"/><use href="#mk" x="1522.7" y="333.7"/><use href="#mr" x="1522.7" y="450.8"/><use href="#mk" x="1526.7" y="333.7"/><use href="#mk" x="1526.7" y="329.6"/><use href="#mr" x="1526.7" y="446.7"/><use href="#mr" x="1530.8" y="446.7"/><use href="#mk" x="1530.8" y="329.6"/><use href="#mr" x="1530.8" y="442.7"/><use href="#mk" x="1534.8" y="329.6"/><use href="#mr" x="1534.8" y="442.7"/><use href="#mk" x="1534.8" y="325.6"/><use href="#mr" x="1534.8" y="438.6"/><use href="#mk" x="1538.8" y="325.6"/><use href="#mr" x="1538.8" y="438.6"/><use href="#mk" x="1542.9" y="325.6"/><use href="#mr" x="1542.9" y="434.6"/><use href="#mk" x="1546.9" y="325.6"/><use href="#mr" x="1546.9" y="430.6"/><use href="#mr" x="1551" y="430.6"/><use href="#mk" x="1551" y="321.6"/><use href="#mr" x="1551" y="426.5"/><use href="#mk" x="1555" y="321.6"/><use href="#mr" x="1555" y="426.5"/><use href="#mk" x="1559" y="321.6"/><use href="#mr" x="1559" y="422.5"/><use href="#mk" x="1563.1" y="321.6"/><use href="#mr" x="1563.1" y="418.5"/><use href="#mr" x="1567.1" y="418.5"/><use href="#mk" x="1567.1" y="317.5"/><use href="#mr" x="1567.1" y="414.4"/><use href="#mk" x="1571.1" y="317.5"/><use href="#mr" x="1571.1" y="414.4"/><use href="#mr" x="1575.2" y="414.4"/><use href="#mk" x="1575.2" y="317.5"/><use href="#mr" x="1575.2" y="410.4"/><use href="#mk" x="1579.2" y="317.5"/><use href="#mr" x="1579.2" y="410.4"/><use href="#mk" x="1583.3" y="313.5"/><use href="#mr" x="1583.3" y="406.3"/><use href="#mr" x="1587.3" y="406.3"/><use href="#mk" x="1587.3" y="313.5"/><use href="#mr" x="1587.3" y="402.3"/><use href="#mk" x="1591.3" y="313.5"/><use href="#mr" x="1591.3" y="402.3"/><use href="#mr" x="1595.4" y="402.3"/><use href="#mk" x="1595.4" y="309.5"/><use href="#mr" x="1595.4" y="398.3"/><use href="#mk" x="1599.4" y="309.5"/><use href="#mr" x="1599.4" y="398.3"/><use href="#mr" x="1603.4" y="398.3"/><use href="#mk" x="1603.4" y="309.5"/><use href="#mr" x="1603.4" y="394.2"/><use href="#mk" x="1607.5" y="305.4"/><use href="#mr" x="1607.5" y="394.2"/><use href="#mr" x="1611.5" y="394.2"/><use href="#mk" x="1611.5" y="305.4"/><use href="#mr" x="1611.5" y="390.2"/><use href="#mk" x="1615.5" y="305.4"/><use href="#mr" x="1615.5" y="390.2"/><use href="#mk" x="1619.6" y="305.4"/><use href="#mr" x="1619.6" y="390.2"/><use href="#mk" x="1619.6" y="301.4"/><use href="#mr" x="1619.6" y="386.2"/><use href="#mk" x="1623.6" y="301.4"/><use href="#mr" x="1623.6" y="386.2"/><use href="#mr" x="1627.7" y="386.2"/><use href="#mk" x="1627.7" y="301.4"/><use href="#mr" x="1627.7" y="382.1"/><use href="#mk" x="1631.7" y="301.4"/><use href="#mr" x="1631.7" y="382.1"/><use href="#mk" x="1635.7" y="301.4"/><use href="#mr" x="1635.7" y="382.1"/><use href="#mk" x="1639.8" y="297.4"/><use href="#mr" x="1639.8" y="378.1"/><use href="#mr" x="1643.8" y="378.1"/><use href="#mk" x="1643.8" y="297.4"/><use href="#mr" x="1643.8" y="374.1"/><use href="#mk" x="1647.8" y="297.4"/><use href="#mr" x="1647.8" y="374.1"/><use href="#mr" x="1651.9" y="374.1"/><use href="#mk" x="1651.9" y="297.4"/><use href="#mr" x="1651.9" y="370"/><use href="#mk" x="1655.9" y="293.3"/><use href="#mr" x="1655.9" y="370"/><use href="#mk" x="1660" y="293.3"/><use href="#mr" x="1660" y="370"/><use href="#mk" x="1664" y="293.3"/><use href="#mr" x="1664" y="366"/><use href="#mk" x="1668" y="293.3"/><use href="#mr" x="1668" y="366"/><use href="#mk" x="1672.1" y="293.3"/><use href="#mk" x="1672.1" y="289.3"/><use href="#mr" x="1672.1" y="361.9"/><use href="#mk" x="1676.1" y="289.3"/><use href="#mr" x="1676.1" y="361.9"/><use href="#mr" x="1680.1" y="361.9"/><use href="#mk" x="1680.1" y="289.3"/><use href="#mr" x="1680.1" y="357.9"/><use href="#mk" x="1684.2" y="289.3"/><use href="#mr" x="1684.2" y="357.9"/><use href="#mk" x="1688.2" y="289.3"/><use href="#mr" x="1688.2" y="357.9"/><use href="#mk" x="1692.3" y="289.3"/><use href="#mr" x="1692.3" y="357.9"/><use href="#mk" x="1692.3" y="285.2"/><use href="#mr" x="1692.3" y="353.9"/><use href="#mk" x="1696.3" y="285.2"/><use href="#mr" x="1696.3" y="353.9"/><use href="#mr" x="1700.3" y="353.9"/><use href="#mk" x="1700.3" y="285.2"/><use href="#mr" x="1700.3" y="349.8"/><use href="#mk" x="1704.4" y="285.2"/><use href="#mr" x="1704.4" y="349.8"/><use href="#mk" x="1708.4" y="285.2"/><use href="#mk" x="1708.4" y="281.2"/><use href="#mr" x="1708.4" y="349.8"/><use href="#mr" x="1712.4" y="349.8"/><use href="#mk" x="1712.4" y="281.2"/><use href="#mr" x="1712.4" y="345.8"/><use href="#mk" x="1716.5" y="281.2"/><use href="#mr" x="1716.5" y="345.8"/><use href="#mk" x="1720.5" y="281.2"/><use href="#mr" x="1720.5" y="345.8"/><use href="#mk" x="1724.5" y="281.2"/><use href="#mr" x="1724.5" y="345.8"/><use href="#mk" x="1728.6" y="281.2"/><use href="#mr" x="1728.6" y="341.8"/><use href="#mk" x="1732.6" y="277.2"/><use href="#mr" x="1732.6" y="341.8"/><use href="#mk" x="1736.7" y="277.2"/><use href="#mr" x="1736.7" y="341.8"/><use href="#mk" x="1740.7" y="277.2"/><use href="#mr" x="1740.7" y="337.7"/><use href="#mk" x="1744.7" y="277.2"/><use href="#mr" x="1744.7" y="337.7"/><use href="#mk" x="1748.8" y="277.2"/><use href="#mr" x="1748.8" y="337.7"/><use href="#mk" x="1752.8" y="277.2"/><use href="#mr" x="1752.8" y="333.7"/><use href="#mk" x="1756.8" y="277.2"/><use href="#mr" x="1756.8" y="333.7"/><use href="#mk" x="1760.9" y="277.2"/><use href="#mk" x="1760.9" y="273.1"/><use href="#mr" x="1760.9" y="333.7"/><use href="#mk" x="1764.9" y="273.1"/><use href="#mr" x="1764.9" y="329.6"/><use href="#mk" x="1769" y="273.1"/><use href="#mr" x="1769" y="329.6"/><use href="#mk" x="1773" y="273.1"/><use href="#mr" x="1773" y="329.6"/><use href="#mk" x="1777" y="273.1"/><use href="#mr" x="1777" y="329.6"/><use href="#mk" x="1781.1" y="273.1"/><use href="#mr" x="1781.1" y="325.6"/><use href="#mk" x="1785.1" y="273.1"/><use href="#mr" x="1785.1" y="325.6"/><use href="#mk" x="1789.1" y="273.1"/><use href="#mk" x="1789.1" y="269.1"/><use href="#mr" x="1789.1" y="325.6"/><use href="#mr" x="1793.2" y="325.6"/><use href="#mk" x="1793.2" y="269.1"/><use href="#mr" x="1793.2" y="321.6"/><use href="#mk" x="1797.2" y="269.1"/><use href="#mr" x="1797.2" y="321.6"/><use href="#mk" x="1801.3" y="269.1"/><use href="#mr" x="1801.3" y="321.6"/><use href="#mk" x="1805.3" y="269.1"/><use href="#mr" x="1805.3" y="321.6"/><use href="#mk" x="1809.3" y="269.1"/><use href="#mk" x="1809.3" y="265.1"/><use href="#mr" x="1809.3" y="317.5"/><use href="#mk" x="1813.4" y="265.1"/><use href="#mr" x="1813.4" y="317.5"/><use href="#mk" x="1817.4" y="265.1"/><use href="#mr" x="1817.4" y="317.5"/><use href="#mk" x="1821.4" y="265.1"/><use href="#mr" x="1821.4" y="317.5"/><use href="#mk" x="1825.5" y="265.1"/><use href="#mr" x="1825.5" y="313.5"/><use href="#mk" x="1829.5" y="265.1"/><use href="#mr" x="1829.5" y="313.5"/><use href="#mk" x="1833.5" y="265.1"/><use href="#mr" x="1833.5" y="313.5"/><use href="#mk" x="1837.6" y="265.1"/><use href="#mr" x="1837.6" y="313.5"/><use href="#mr" x="1841.6" y="313.5"/><use href="#mk" x="1841.6" y="261"/><use href="#mr" x="1841.6" y="309.5"/><use href="#mk" x="1845.7" y="261"/><use href="#mr" x="1845.7" y="309.5"/><use href="#mk" x="1849.7" y="261"/><use href="#mr" x="1849.7" y="309.5"/><use href="#mk" x="1853.7" y="261"/><use href="#mr" x="1853.7" y="309.5"/><use href="#mr" x="1857.8" y="309.5"/><use href="#mk" x="1857.8" y="261"/><use href="#mr" x="1857.8" y="305.4"/><use href="#mk" x="1861.8" y="261"/><use href="#mr" x="1861.8" y="305.4"/><use href="#mk" x="1865.8" y="261"/><use href="#mr" x="1865.8" y="305.4"/><use href="#mk" x="1869.9" y="261"/><use href="#mr" x="1869.9" y="305.4"/><use href="#mk" x="1873.9" y="261"/><use href="#mr" x="1873.9" y="305.4"/><use href="#mk" x="1878" y="261"/><use href="#mr" x="1878" y="305.4"/><use href="#mk" x="1878" y="257"/><use href="#mr" x="1878" y="301.4"/><use href="#mk" x="1882" y="257"/><use href="#mr" x="1882" y="301.4"/><use href="#mk" x="1886" y="257"/><use href="#mr" x="1886" y="301.4"/><use href="#mk" x="1890.1" y="257"/><use href="#mr" x="1890.1" y="301.4"/><use href="#mk" x="1894.1" y="257"/><use href="#mr" x="1894.1" y="301.4"/><use href="#mk" x="1898.1" y="257"/><use href="#mr" x="1898.1" y="301.4"/><use href="#mr" x="1902.2" y="301.4"/><use href="#mk" x="1902.2" y="257"/><use href="#mr" x="1902.2" y="297.4"/><use href="#mk" x="1906.2" y="257"/><use href="#mr" x="1906.2" y="297.4"/><use href="#mk" x="1910.3" y="257"/><use href="#mk" x="1910.3" y="252.9"/><use href="#mr" x="1910.3" y="297.4"/><use href="#mk" x="1914.3" y="252.9"/><use href="#mr" x="1914.3" y="297.4"/><use href="#mk" x="1918.3" y="252.9"/><use href="#mr" x="1918.3" y="297.4"/><use href="#mk" x="1922.4" y="252.9"/><use href="#mr" x="1922.4" y="297.4"/><use href="#mk" x="1926.4" y="252.9"/><use href="#mr" x="1926.4" y="297.4"/><use href="#mk" x="1930.4" y="252.9"/><use href="#mr" x="1930.4" y="293.3"/><use href="#mk" x="1934.5" y="252.9"/><use href="#mr" x="1934.5" y="293.3"/><use href="#mk" x="1938.5" y="252.9"/><use href="#mr" x="1938.5" y="293.3"/><use href="#mk" x="1942.5" y="252.9"/><use href="#mr" x="1942.5" y="293.3"/><use href="#mk" x="1946.6" y="252.9"/><use href="#mr" x="1946.6" y="293.3"/><use href="#mk" x="1950.6" y="248.9"/><use href="#mr" x="1950.6" y="293.3"/><use href="#mk" x="1954.7" y="248.9"/><use href="#mr" x="1954.7" y="293.3"/><use href="#mk" x="1958.7" y="248.9"/><use href="#mr" x="1958.7" y="289.3"/><use href="#mk" x="1962.7" y="248.9"/><use href="#mr" x="1962.7" y="289.3"/><use href="#mk" x="1966.8" y="248.9"/><use href="#mr" x="1966.8" y="289.3"/><use href="#mk" x="1970.8" y="248.9"/><use href="#mr" x="1970.8" y="289.3"/><use href="#mk" x="1974.8" y="248.9"/><use href="#mr" x="1974.8" y="289.3"/><use href="#mk" x="1978.9" y="248.9"/><use href="#mr" x="1978.9" y="289.3"/><use href="#mr" x="1982.9" y="289.3"/><use href="#mk" x="1982.9" y="248.9"/><use href="#mr" x="1982.9" y="285.2"/><use href="#mk" x="1987" y="248.9"/><use href="#mr" x="1987" y="285.2"/><use href="#mk" x="1991" y="248.9"/><use href="#mr" x="1991" y="285.2"/><use href="#mk" x="1995" y="244.9"/><use href="#mr" x="1995" y="285.2"/><use href="#mk" x="1999.1" y="244.9"/><use href="#mr" x="1999.1" y="285.2"/><use href="#mk" x="2003.1" y="244.9"/><use href="#mr" x="2003.1" y="285.2"/><use href="#mk" x="2007.1" y="244.9"/><use href="#mr" x="2007.1" y="285.2"/><use href="#mr" x="2011.2" y="285.2"/><use href="#mk" x="2011.2" y="244.9"/><use href="#mr" x="2011.2" y="281.2"/><use href="#mk" x="2015.2" y="244.9"/><use href="#mr" x="2015.2" y="281.2"/><use href="#mk" x="2019.2" y="244.9"/><use href="#mr" x="2019.2" y="281.2"/><use href="#mk" x="2023.3" y="244.9"/><use href="#mr" x="2023.3" y="281.2"/><use href="#mk" x="2027.3" y="244.9"/><use href="#mr" x="2027.3" y="281.2"/><use href="#mk" x="2031.4" y="244.9"/><use href="#mr" x="2031.4" y="281.2"/><use href="#mk" x="2035.4" y="244.9"/><use href="#mr" x="2035.4" y="281.2"/><use href="#mr" x="2039.4" y="281.2"/><use href="#mk" x="2039.4" y="244.9"/><use href="#mr" x="2039.4" y="277.2"/><use href="#mk" x="2043.5" y="244.9"/><use href="#mk" x="2043.5" y="240.8"/><use href="#mr" x="2043.5" y="277.2"/><use href="#mk" x="2047.5" y="240.8"/><use href="#mr" x="2047.5" y="277.2"/><use href="#mk" x="2051.5" y="240.8"/><use href="#mr" x="2051.5" y="277.2"/><use href="#mk" x="2055.6" y="240.8"/><use href="#mr" x="2055.6" y="277.2"/><use href="#mk" x="2059.6" y="240.8"/><use href="#mr" x="2059.6" y="277.2"/><use href="#mk" x="2063.7" y="240.8"/><use href="#mr" x="2063.7" y="277.2"/><use href="#mk" x="2067.7" y="240.8"/><use href="#mr" x="2067.7" y="277.2"/><use href="#mk" x="2071.7" y="240.8"/><use href="#mr" x="2071.7" y="273.1"/><use href="#mk" x="2075.8" y="240.8"/><use href="#mr" x="2075.8" y="273.1"/><use href="#mk" x="2079.8" y="240.8"/><use href="#mr" x="2079.8" y="273.1"/><use href="#mk" x="2083.8" y="240.8"/><use href="#mr" x="2083.8" y="273.1"/><use href="#mk" x="2087.9" y="240.8"/><use href="#mr" x="2087.9" y="273.1"/><use href="#mk" x="2091.9" y="240.8"/><use href="#mr" x="2091.9" y="273.1"/><use href="#mk" x="2096" y="240.8"/><use href="#mr" x="2096" y="273.1"/><use href="#mk" x="2100" y="240.8"/><use href="#mr" x="2100" y="269.1"/><use href="#mk" x="2104" y="240.8"/><use href="#mr" x="2104" y="269.1"/><use href="#mk" x="2108.1" y="240.8"/><use href="#mk" x="2108.1" y="236.8"/><use href="#mr" x="2108.1" y="269.1"/><use href="#mk" x="2112.1" y="236.8"/><use href="#mr" x="2112.1" y="269.1"/><use href="#mk" x="2116.1" y="236.8"/><use href="#mr" x="2116.1" y="269.1"/><use href="#mk" x="2120.2" y="236.8"/><use href="#mr" x="2120.2" y="269.1"/><use href="#mk" x="2124.2" y="236.8"/><use href="#mr" x="2124.2" y="269.1"/><use href="#mk" x="2128.2" y="236.8"/><use href="#mr" x="2128.2" y="269.1"/><use href="#mk" x="2132.3" y="236.8"/><use href="#mr" x="2132.3" y="265.1"/><use href="#mk" x="2136.3" y="236.8"/><use href="#mr" x="2136.3" y="265.1"/><use href="#mk" x="2140.4" y="236.8"/><use href="#mr" x="2140.4" y="265.1"/><use href="#mk" x="2144.4" y="236.8"/><use href="#mr" x="2144.4" y="265.1"/><use href="#mk" x="2148.4" y="236.8"/><use href="#mr" x="2148.4" y="265.1"/><use href="#mk" x="2152.5" y="236.8"/><use href="#mr" x="2152.5" y="265.1"/><use href="#mk" x="2156.5" y="236.8"/><use href="#mr" x="2156.5" y="265.1"/><use href="#mk" x="2160.5" y="236.8"/><use href="#mr" x="2160.5" y="265.1"/><use href="#mk" x="2164.6" y="236.8"/><use href="#mr" x="2164.6" y="265.1"/><use href="#mk" x="2168.6" y="236.8"/><use href="#mr" x="2168.6" y="265.1"/><use href="#mk" x="2172.7" y="236.8"/><use href="#mr" x="2172.7" y="265.1"/><use href="#mk" x="2176.7" y="236.8"/><use href="#mr" x="2176.7" y="265.1"/><use href="#mk" x="2180.7" y="236.8"/><use href="#mr" x="2180.7" y="265.1"/>
</g>
<g fill="#000"><rect x="232.9" y="42" width="1953.8" height="2.8"/><rect x="232.9" y="1468.4" width="1953.8" height="3.7"/><rect x="232.9" y="42" width="4.1" height="1430.1"/><rect x="2182.8" y="42" width="3.9" height="1430.1"/></g>
<rect x="1379.7" y="1193.4" width="169.3" height="7.5" fill="#000"/><rect x="1462.3" y="1188.9" width="86.7" height="12" fill="#000"/>
<rect x="1379.7" y="1256.7" width="169.3" height="7.3" fill="#0f0"/>
<rect x="1375.3" y="1327.3" width="173.7" height="7.3" fill="#f00"/>
<text class="lg" transform="translate(0 1200.2) scale(1.15 1)" x="1371.5 1395.8 1421.8 1448.8 1474.4 1497.1 1523.1 1538.7 1552.1 1579.7 1605.9 1630.9" font-size="49">conventional</text>
<text class="lg" transform="translate(0 1271.1) scale(1.15 1)" x="1373.7 1403.5 1428 1436.5 1460.9 1484.7 1505.2 1527.2 1542.6 1562.1 1590.9 1614.2 1627.5" font-size="49">no core-shell</text>
<text class="lg" transform="translate(0 1342.5) scale(1.15 1)" x="1373.4 1412.2 1424.1 1439 1466.2 1474.4 1499.1 1522.7 1543 1564.4 1580.5 1600 1628.8 1650.3 1664.1" font-size="49">with core-shell</text>
<text class="tk" transform="translate(216.5 60.8) scale(0.87 1)" letter-spacing="2.0" text-anchor="end">1</text>
<text class="tk" transform="translate(216.5 201.8) scale(0.87 1)" letter-spacing="2.0" text-anchor="end">0.9</text>
<text class="tk" transform="translate(216.5 342.7) scale(0.87 1)" letter-spacing="2.0" text-anchor="end">0.8</text>
<text class="tk" transform="translate(216.5 484.4) scale(0.87 1)" letter-spacing="2.0" text-anchor="end">0.7</text>
<text class="tk" transform="translate(216.5 630.1) scale(0.87 1)" letter-spacing="2.0" text-anchor="end">0.6</text>
<text class="tk" transform="translate(216.5 771.8) scale(0.87 1)" letter-spacing="2.0" text-anchor="end">0.5</text>
<text class="tk" transform="translate(216.5 912.7) scale(0.87 1)" letter-spacing="2.0" text-anchor="end">0.4</text>
<text class="tk" transform="translate(216.5 1058.9) scale(0.87 1)" letter-spacing="2.0" text-anchor="end">0.3</text>
<text class="tk" transform="translate(216.5 1200.4) scale(0.87 1)" letter-spacing="2.0" text-anchor="end">0.2</text>
<text class="tk" transform="translate(216.5 1341.5) scale(0.87 1)" letter-spacing="2.0" text-anchor="end">0.1</text>
<text class="tk" transform="translate(216.5 1486.9) scale(0.87 1)" letter-spacing="2.0" text-anchor="end">0</text>
<text class="tk" transform="translate(232.0 1531.0) scale(0.87 1)" letter-spacing="2.0" text-anchor="middle">40</text>
<text class="tk" transform="translate(554.8 1531.0) scale(0.87 1)" letter-spacing="2.0" text-anchor="middle">42</text>
<text class="tk" transform="translate(881.9 1531.0) scale(0.87 1)" letter-spacing="2.0" text-anchor="middle">44</text>
<text class="tk" transform="translate(1205.4 1531.0) scale(0.87 1)" letter-spacing="2.0" text-anchor="middle">46</text>
<text class="tk" transform="translate(1531.8 1531.0) scale(0.87 1)" letter-spacing="2.0" text-anchor="middle">48</text>
<text class="tk" transform="translate(1855.4 1531.0) scale(0.87 1)" letter-spacing="2.0" text-anchor="middle">50</text>
<text class="tk" transform="translate(2181.7 1531.0) scale(0.87 1)" letter-spacing="2.0" text-anchor="middle">52</text>
<text class="ax" transform="translate(0 1624.4)" x="877 954.3 1031.6 1108.5 1167.8 1228.3 1251.9 1285.4 1360 1421.6 1493.5" font-size="99">ANGLE (DEG)</text>
<text class="ax" transform="translate(98.3 1102.5) rotate(-90)" x="-4.8 64.5 119.8 173.1 231.4 291.2 356.3 421.3 457.1 531.3 564.9 625.5" font-size="99">REFLECTIVITY</text>
</svg></body></html>
